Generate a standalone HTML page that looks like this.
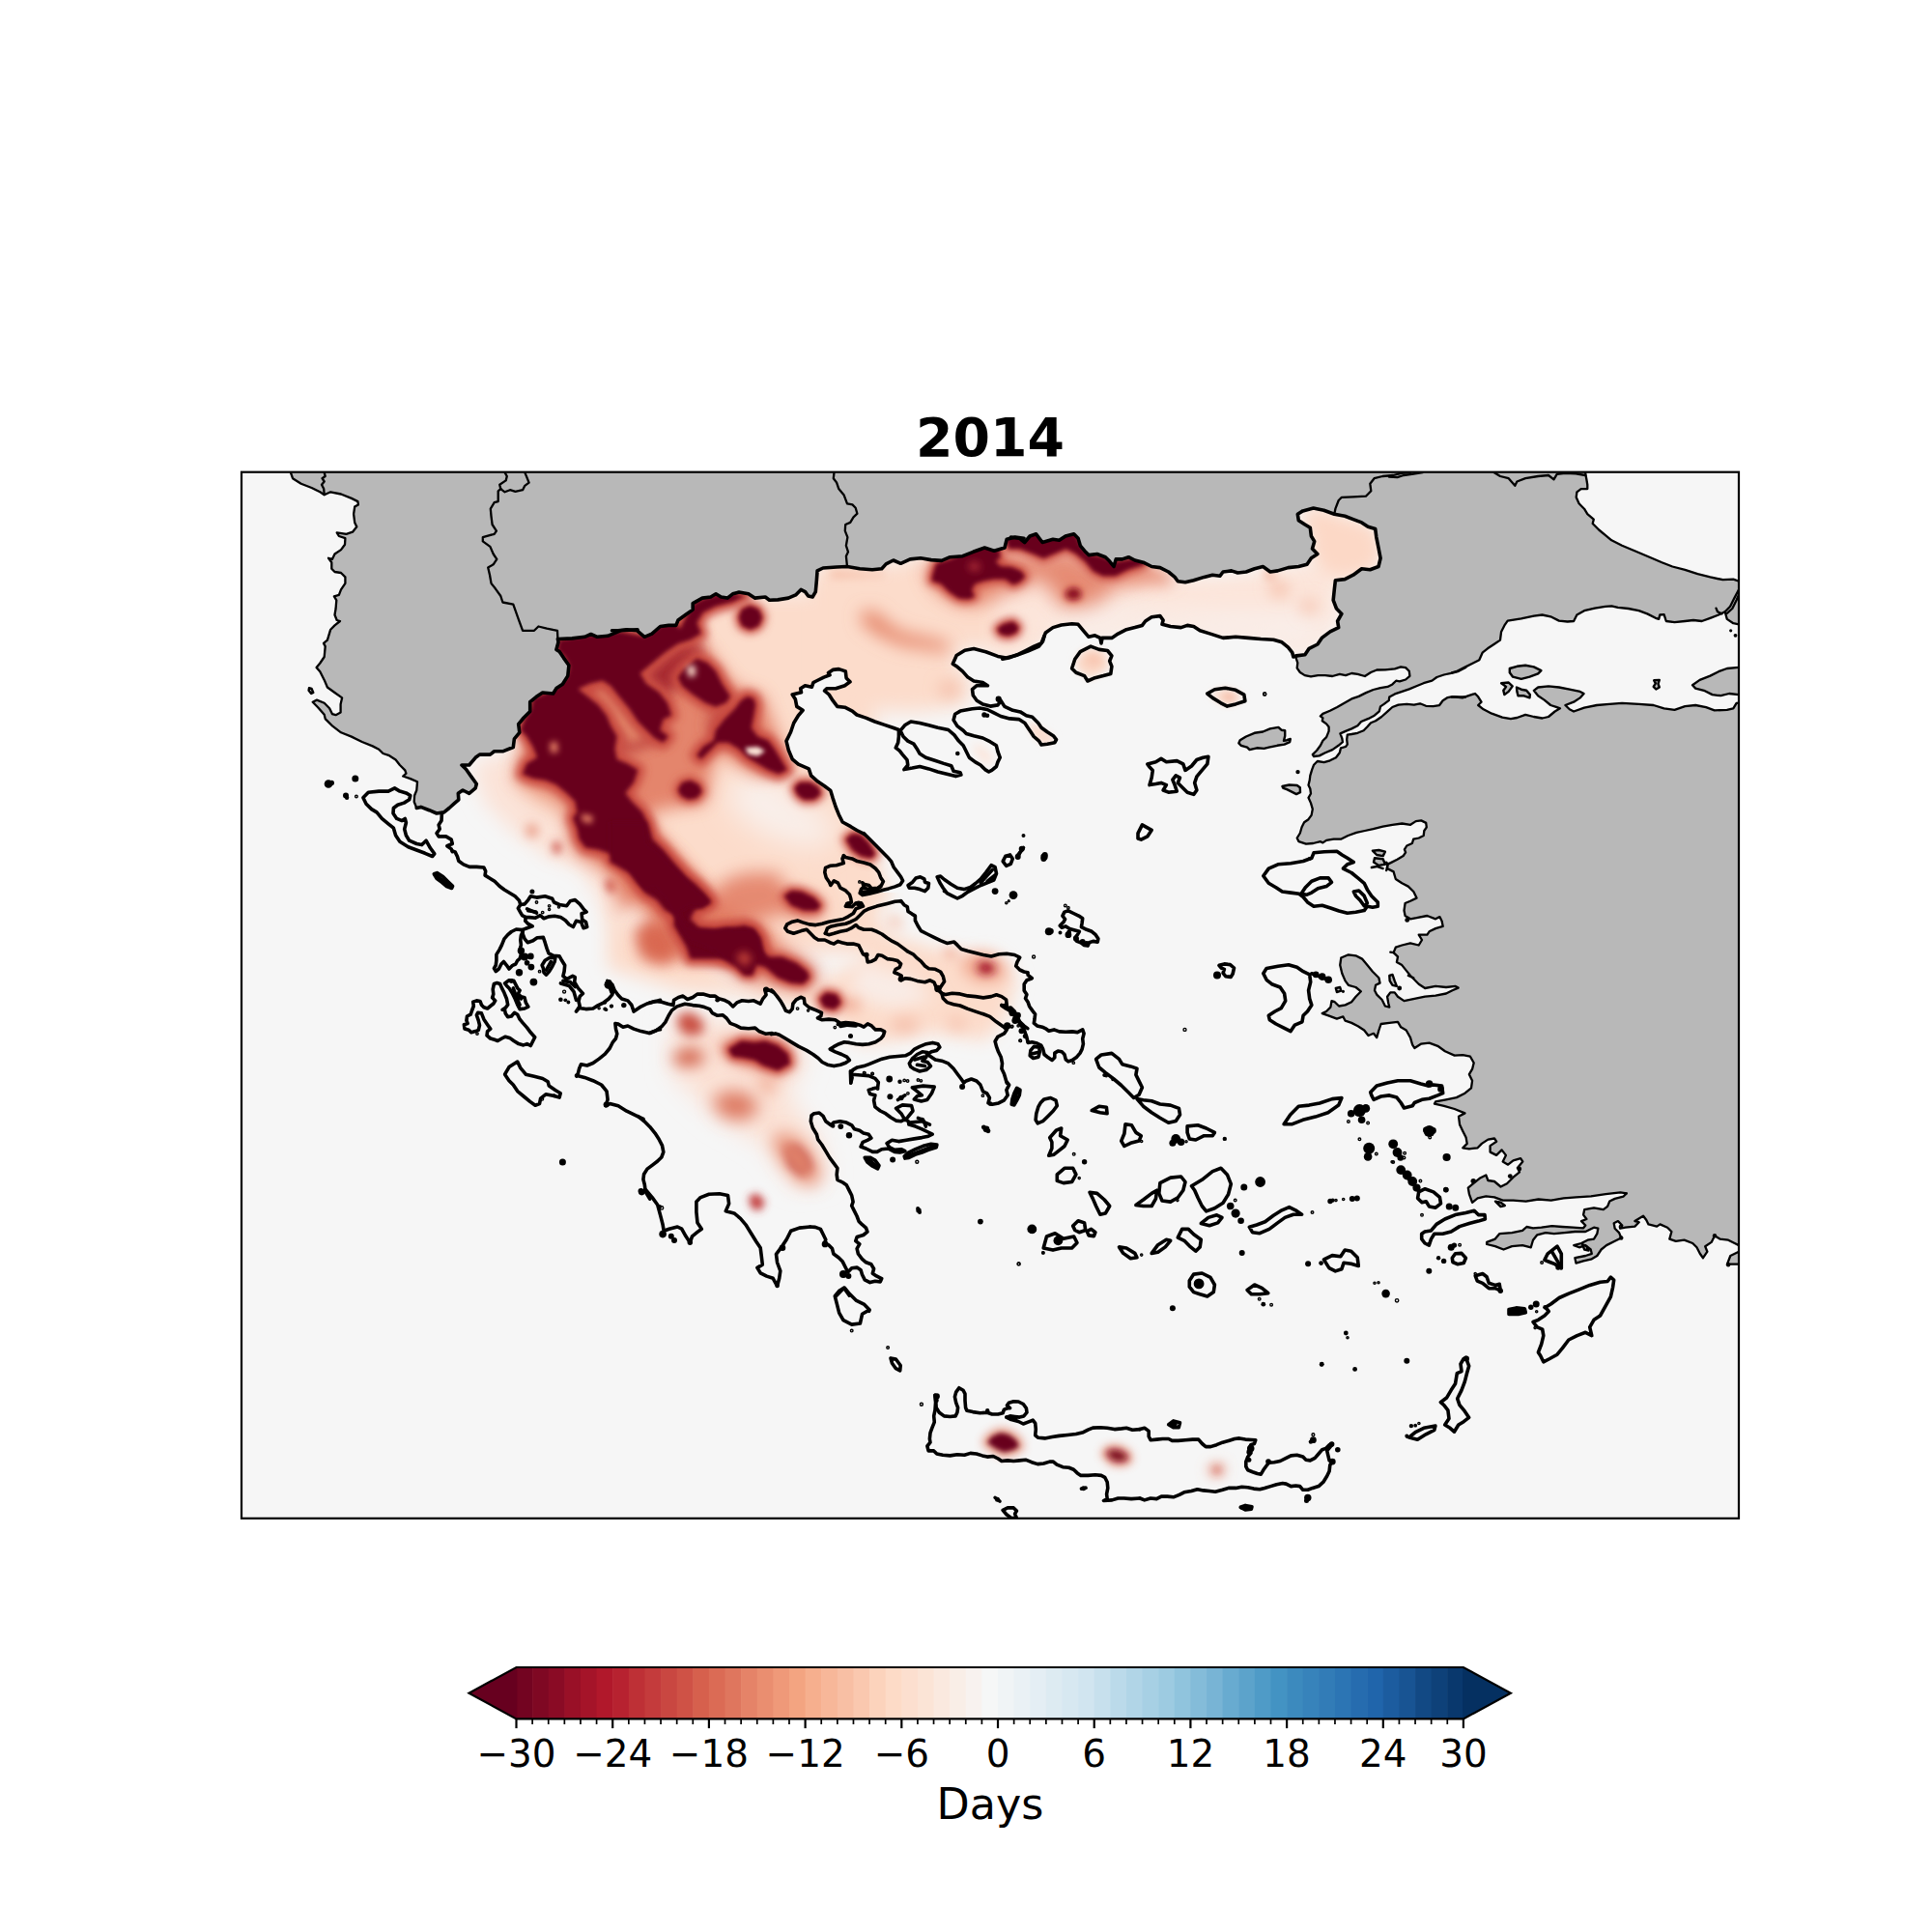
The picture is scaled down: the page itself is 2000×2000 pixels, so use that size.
<!DOCTYPE html>
<html lang="en"><head><meta charset="utf-8"><title>2014</title>
<style>html,body{margin:0;padding:0;background:#fff}body{width:2000px;height:2000px;overflow:hidden}</style></head>
<body>
<svg width="2000" height="2000" viewBox="0 0 2000 2000" style="display:block">
<defs><clipPath id="ax"><rect x="250.0" y="488.7" width="1550.0" height="1083.1"/></clipPath>
<filter id="b2" filterUnits="userSpaceOnUse" x="150" y="400" width="1750" height="1250"><feGaussianBlur stdDeviation="2"/></filter>
<filter id="b2_2" filterUnits="userSpaceOnUse" x="150" y="400" width="1750" height="1250"><feGaussianBlur stdDeviation="2.2"/></filter>
<filter id="b2_5" filterUnits="userSpaceOnUse" x="150" y="400" width="1750" height="1250"><feGaussianBlur stdDeviation="2.5"/></filter>
<filter id="b3" filterUnits="userSpaceOnUse" x="150" y="400" width="1750" height="1250"><feGaussianBlur stdDeviation="3"/></filter>
<filter id="b3_5" filterUnits="userSpaceOnUse" x="150" y="400" width="1750" height="1250"><feGaussianBlur stdDeviation="3.5"/></filter>
<filter id="b4" filterUnits="userSpaceOnUse" x="150" y="400" width="1750" height="1250"><feGaussianBlur stdDeviation="4"/></filter>
<filter id="b5" filterUnits="userSpaceOnUse" x="150" y="400" width="1750" height="1250"><feGaussianBlur stdDeviation="5"/></filter>
<filter id="b6" filterUnits="userSpaceOnUse" x="150" y="400" width="1750" height="1250"><feGaussianBlur stdDeviation="6"/></filter>
<filter id="b7" filterUnits="userSpaceOnUse" x="150" y="400" width="1750" height="1250"><feGaussianBlur stdDeviation="7"/></filter>
<filter id="b8" filterUnits="userSpaceOnUse" x="150" y="400" width="1750" height="1250"><feGaussianBlur stdDeviation="8"/></filter>
<filter id="b9" filterUnits="userSpaceOnUse" x="150" y="400" width="1750" height="1250"><feGaussianBlur stdDeviation="9"/></filter>
<filter id="b10" filterUnits="userSpaceOnUse" x="150" y="400" width="1750" height="1250"><feGaussianBlur stdDeviation="10"/></filter>
<filter id="b12" filterUnits="userSpaceOnUse" x="150" y="400" width="1750" height="1250"><feGaussianBlur stdDeviation="12"/></filter>
<filter id="b14" filterUnits="userSpaceOnUse" x="150" y="400" width="1750" height="1250"><feGaussianBlur stdDeviation="14"/></filter>
</defs>
<rect x="0" y="0" width="2000" height="2000" fill="#fff"/>
<rect x="250.0" y="488.7" width="1550.0" height="1083.1" fill="#f6f6f6"/>
<g clip-path="url(#ax)">
<g id="heat">
<path d="M578.9 662.2 L632.2 653.5 L684.3 647 L717 625.2 L762.6 614.3 L838.7 614.3 L849.6 586.1 L906.1 590.4 L906.1 986.1 L697.4 986.1 L675.7 951.3 L632.2 918.7 L601.7 886.1 L573.5 881.7 L562.6 864.3 L545.2 842.6 L530 810 L532.2 781.7 L551.7 725.2Z" fill="#fcdccb" filter="url(#b10)"/>
<path d="M851.7 582.9 L909.7 586.3 L966 574.7 L1025.6 553.1 L1108.4 544.8 L1184.6 574.7 L1184.6 619.4 L1108.4 634.3 L1078.6 652.5 L1075.3 665.8 L1042.2 679 L1009.1 669.1 L992.5 674 L985.9 685.6 L1004.1 702.2 L1002.4 727 L975.9 733.7 L942.8 737 L909.7 735.3 L876.6 732 L851.7 718.8Z" fill="#fcdccb" filter="url(#b10)"/>
<path d="M629.1 914.3 L705.2 968.7 L748.7 1012.2 L835.7 1023 L900.9 990.4 L857.4 947 L857.4 892.6 L879.1 860 L900.9 881.7 L922.6 931.7 L896.5 942.6 L911.7 964.3 L966.1 981.7 L1031.3 990.4 L1053 1012.2 L1042.2 1051.3 L1020.4 1077.4 L966.1 1068.7 L922.6 1077.4 L890 1081.7 L857.4 1051.3 L813.9 1038.3 L770.4 1029.6 L705.2 1025.2 L661.7 1012.2 L629.1 1001.3Z" fill="#fcdccb" filter="url(#b9)"/>
<path d="M1029.1 567 L1118.3 567 L1153 588.7 L1213.9 597.4 L1257.4 597.4 L1311.7 590.9 L1357.4 582.2 L1363.9 573.5 L1357.4 553.9 L1344.3 534.3 L1359.6 525.7 L1422.6 547.4 L1429.1 577.8 L1418.3 590.9 L1387.8 601.7 L1381.3 621.3 L1387.8 636.5 L1366.1 664.8 L1342.2 678.9 L1322.6 664.8 L1257.4 658.3 L1203 647.4 L1192.2 638.7 L1170.4 651.7 L1127 660.4 L1105.2 646.3 L1083.5 653.9 L1061.7 673.5 L1029.1 682.2Z" fill="#fce5da" filter="url(#b9)"/>
<path d="M758.3 805.7 L795.2 799.1 L832.2 831.7 L867 853.5 L849.6 879.6 L806.1 870.9 L773.5 853.5 L753.9 831.7Z" fill="#f9efea" filter="url(#b14)"/>
<path d="M488.7 790.4 L534.3 777.4 L545.2 805.7 L584.3 825.2 L597.4 864.3 L610.4 881.7 L645.2 894.8 L653.9 916.5 L675.7 942.6 L697.4 973 L675.7 980 L632.2 951.3 L601.7 899.1 L567 886.1 L534.3 864.3 L501.7 831.7Z" fill="#fbe3d8" filter="url(#b10)"/>
<path d="M536.5 794.8 L571.3 810 L588.7 833.9 L582.2 847 L551.7 831.7 L532.2 810Z" fill="#f7c9b4" filter="url(#b9)"/>
<path d="M1091.9 619.4 L1184.6 612.8 L1184.6 635.9 L1108.4 642.6 L1080.3 652.5Z" fill="#fbe6dc" filter="url(#b10)"/>
<path d="M1115.1 679 L1128.3 670.7 L1144.9 675.7 L1148.2 692.3 L1128.3 702.2 L1113.4 692.3Z" fill="#fbd9c8" filter="url(#b5)"/>
<path d="M1125 680.7 L1133.3 678.2 L1139.9 683.1 L1133.3 687.3 L1126.7 685.6Z" fill="#f3aa90" filter="url(#b6)"/>
<path d="M1065.4 748.6 L1073.7 751.9 L1091.9 765.1 L1080.3 770.1 L1068.7 758.5Z" fill="#fbdccd" filter="url(#b4)"/>
<path d="M890 994.8 L944.3 1012.2 L966.1 1033.9 L922.6 1044.8 L879.1 1029.6Z" fill="#f9ece6" filter="url(#b9)"/>
<path d="M694.3 1051.3 L748.7 1055.7 L813.9 1073 L835.7 1099.1 L813.9 1131.7 L846.5 1175.2 L857.4 1218.7 L824.8 1229.6 L792.2 1186.1 L737.8 1153.5 L694.3 1110Z" fill="#fbe2d6" filter="url(#b12)"/>
<path d="M1083.5 653.9 L1105.2 647.4 L1127 660.4 L1192.2 638.7 L1257.4 658.3 L1322.6 664.8 L1342.2 678.9 L1355.2 671.3 L1379.1 632.2 L1344.3 632.2 L1257.4 632.2 L1170.4 627.8 L1105.2 632.2Z" fill="#f9eee9" filter="url(#b12)"/>
<path d="M1348.7 532.2 L1359.6 526.7 L1422.6 548.5 L1428 577.8 L1418.3 588.7 L1396.5 595.2 L1374.8 593 L1361.7 575.7 L1359.6 553.9Z" fill="#fcd8c6" filter="url(#b8)"/>
<path d="M588.7 699.1 L632.2 690.4 L675.7 673 L719.1 653.5 L732.2 673 L762.6 712.2 L788.7 718.7 L819.1 799.1 L784.3 803.5 L740.9 777.4 L730 831.7 L697.4 836.1 L667 842.6 L697.4 886.1 L740.9 933.9 L795.2 962.2 L793 992.6 L697.4 992.6 L653.9 918.7 L593 881.7 L582.2 831.7 L532.2 805.7 L545.2 751.3Z" fill="#e27b62" filter="url(#b9)" opacity="0.9"/>
<path d="M571.3 873 L578.9 870.9 L581.1 880.7 L574.6 885Z" fill="#c94a3f" filter="url(#b5)"/>
<path d="M625.7 912.2 L635.4 910 L638.7 920.9 L631.1 925.2Z" fill="#c94a3f" filter="url(#b5)"/>
<path d="M545.2 855.7 L553.9 853.5 L556.1 864.3 L547.4 866.5Z" fill="#e27b62" filter="url(#b6)"/>
<path d="M956.1 589.6 L975.9 579.6 L1025.6 569.7 L1075.3 574.7 L1108.4 569.7 L1141.6 591.2 L1184.6 589.6 L1184.6 602.8 L1158.1 606.1 L1133.3 626 L1100.2 629.3 L1088.6 612.8 L1075.3 597.8 L1063.7 606.1 L1042.2 612.8 L1017.3 626 L992.5 626 L967.7 609.4Z" fill="#e27b62" filter="url(#b10)" opacity="0.85"/>
<path d="M889.8 635.9 L899.8 631 L911.3 637.6 L924.6 649.2 L937.8 655.8 L954.4 659.1 L971 662.4 L985.9 669.1 L977.6 674.9 L959.4 671.6 L942.8 669.9 L924.6 664.9 L908 656.6 L894.8 647.5Z" fill="#e58468" filter="url(#b9)"/>
<path d="M972.6 713.8 L977.6 708.8 L985.9 708 L992.5 712.1 L990.8 717.9 L982.6 719.6 L975.9 717.9Z" fill="#eda58c" filter="url(#b9)"/>
<path d="M860 591.2 L909.7 593.7 L914.7 589.6 L914.7 596.2 L860 597.8Z" fill="#f4b9a2" filter="url(#b5)"/>
<path d="M640 942.6 L666.1 931.7 L694.3 951.3 L705.2 973 L727 986.1 L753 1003.5 L779.1 1016.5 L805.2 1020.9 L835.7 1025.2 L848.7 1012.2 L842.2 999.1 L813.9 981.7 L792.2 964.3 L748.7 951.3 L731.3 942.6 L735.7 925.2 L705.2 892.6 L683.5 873 L661.7 860 L631.3 860Z" fill="#e27b62" filter="url(#b9)" opacity="0.9"/>
<path d="M661.7 964.3 L683.5 955.7 L703 981.7 L690 994.8 L668.3 990.4Z" fill="#e27b62" filter="url(#b8)" opacity="0.9"/>
<path d="M735.7 933.9 L744.3 914.3 L770.4 903.5 L805.2 903.5 L813.9 920.9 L848.7 931.7 L853 947 L835.7 951.3 L805.2 947 L779.1 955.7 L753 957.8 L737.8 960 L727 940.4Z" fill="#e27b62" filter="url(#b9)" opacity="0.85"/>
<path d="M657.4 962.2 L683.5 951.3 L705.2 981.7 L687.8 999.1 L663.9 990.4Z" fill="#d8654e" filter="url(#b8)" opacity="0.9"/>
<path d="M744.3 1077.4 L779.1 1073 L813.9 1079.6 L824.8 1099.1 L809.6 1112.2 L770.4 1103.5 L748.7 1092.6Z" fill="#e27b62" filter="url(#b8)" opacity="0.8"/>
<path d="M996.5 990.4 L1020.4 986.1 L1042.2 999.1 L1037.8 1014.3 L1013.9 1016.5 L998.7 1007.8Z" fill="#f0a58c" filter="url(#b8)"/>
<path d="M1011.7 999.1 L1019.3 994.8 L1029.1 999.1 L1030.2 1005.7 L1020.4 1008.9 L1012.8 1005.7Z" fill="#a31428" filter="url(#b5)"/>
<path d="M870.4 1036.1 L885.7 1033.9 L892.2 1042.6 L879.1 1047Z" fill="#ee9f86" filter="url(#b7)"/>
<path d="M700.9 1051.3 L713.9 1047 L727 1055.7 L729.1 1068.7 L713.9 1073 L703 1066.5Z" fill="#c94f42" filter="url(#b6)"/>
<path d="M694.3 1093.7 L711.7 1083.9 L729.1 1089.3 L727 1101.3 L705.2 1104.6Z" fill="#d2604a" filter="url(#b8)"/>
<path d="M735.7 1138.3 L757.4 1128.5 L779.1 1135 L785.7 1149.1 L770.4 1160 L748.7 1156.7Z" fill="#dd7860" filter="url(#b9)"/>
<path d="M783.5 1116.5 L796.5 1112.2 L805.2 1120.9 L798.7 1133.9 L787.8 1129.6Z" fill="#f2b09a" filter="url(#b8)"/>
<path d="M811.7 1187.2 L824.8 1185 L835.7 1195.9 L841.1 1210 L830.2 1217.6 L817.2 1206.7Z" fill="#a01828" filter="url(#b4)"/>
<path d="M798.7 1177.4 L813.9 1173 L833.5 1185 L848.7 1212.2 L844.3 1227.4 L827 1223 L809.6 1202.4Z" fill="#e58a70" filter="url(#b9)"/>
<path d="M774.8 1239.3 L783.5 1235 L792.2 1244.3 L786.7 1253.5 L778 1250.9Z" fill="#c23c3c" filter="url(#b4)"/>
<path d="M922.6 1055.7 L944.3 1053.5 L953 1062.2 L940 1068.7 L924.8 1066.5Z" fill="#f4bba6" filter="url(#b8)"/>
<path d="M979.1 1055.7 L996.5 1053.5 L1000.9 1062.2 L987.8 1066.5Z" fill="#f4bba6" filter="url(#b8)"/>
<path d="M916.1 951.3 L929.1 947 L935.7 957.8 L924.8 962.2Z" fill="#f6c4b0" filter="url(#b7)"/>
<path d="M974.8 983.9 L987.8 981.7 L992.2 990.4 L981.3 992.6Z" fill="#f2b09a" filter="url(#b6)"/>
<path d="M1249.4 1521.8 L1259.4 1514.3 L1269.3 1520.6 L1260.6 1529.3Z" fill="#e58a70" filter="url(#b7)"/>
<path d="M1255.7 1521.2 L1260 1518.1 L1263.7 1521.8 L1259.4 1525.5Z" fill="#c6403c" filter="url(#b4)"/>
<path d="M1371.2 1592.6 L1381.1 1590.1 L1389.8 1595.1 L1382.4 1600.1Z" fill="#fbdccd" filter="url(#b4)"/>
<path d="M1148.7 577.8 L1174.8 582.2 L1200.9 588.7 L1218.3 598.5 L1205.2 606.1 L1179.1 601.7 L1157.4 597.4Z" fill="#e9927a" filter="url(#b8)"/>
<path d="M1311.7 606.1 L1327 601.7 L1335.7 612.6 L1322.6 619.1Z" fill="#f4b9a2" filter="url(#b8)"/>
<path d="M1344.3 623.5 L1359.6 619.1 L1366.1 632.2 L1350.9 636.5Z" fill="#f6c4b0" filter="url(#b8)"/>
<path d="M1307.4 588.7 L1316.1 593 L1322.6 598.5 L1311.7 599.6Z" fill="#f1a78e" filter="url(#b5)"/>
<path d="M662.6 699.1 L675.7 686.1 L688.7 675.2 L701.7 666.5 L717 662.2 L730 673 L719.1 683.9 L706.1 699.1 L701.7 712.2 L688.7 720.9 L675.7 712.2Z" fill="#a82a33" filter="url(#b7)"/>
<path d="M736.5 733.9 L762.6 729.6 L769.1 755.7 L749.6 768.7 L732.2 755.7Z" fill="#c24a42" filter="url(#b8)"/>
<path d="M598.5 713.3 L610.4 707.8 L623.5 704.6 L632.2 710 L640.9 720.9 L651.7 733.9 L660.4 747 L669.1 755.7 L677.8 764.3 L686.5 768.7 L638.7 786.1 L636.5 775.2 L638.7 762.2 L632.2 751.3 L627.8 740.4 L619.1 729.6 L608.3 720.9Z" fill="#bf4540" filter="url(#b6)" opacity="0.75"/>
<path d="M610.4 713.3 L623.5 712.2 L636.5 725.2 L651.7 744.8 L667 762.2 L653.9 768.7 L640.9 755.7 L630 738.3 L619.1 725.2Z" fill="#e58a6c" filter="url(#b5)" opacity="0.9"/>
<path d="M578.9 662.2 L610.4 656.7 L640.9 653.5 L667 658.9 L684.3 647 L699.6 645.9 L703.9 651.3 L717 625.2 L727.8 619.8 L740.9 615.4 L756.1 614.3 L771.3 617 L758.3 623 L740.9 627.4 L727.8 633.9 L721.3 644.8 L725.7 655.7 L714.8 662.2 L701.7 666.5 L688.7 675.2 L675.7 686.1 L662.6 697 L669.1 707.8 L682.2 716.5 L690.9 727.4 L695.2 740.4 L686.5 744.8 L683.3 755.7 L692 762.2 L686.5 768.7 L677.8 764.3 L669.1 755.7 L660.4 747 L651.7 733.9 L640.9 720.9 L632.2 710 L623.5 704.6 L610.4 707.8 L598.5 713.3 L608.3 720.9 L619.1 729.6 L627.8 740.4 L632.2 751.3 L638.7 762.2 L636.5 775.2 L638.7 786.1 L649.6 790.4 L660.4 797 L656.1 810 L647.4 820.9 L653.9 829.6 L664.8 840.4 L671.3 853.5 L675.7 868.7 L686.5 879.6 L697.4 892.6 L708.3 905.7 L719.1 914.3 L730 925.2 L736.5 933.9 L727.8 938.3 L719.1 942.6 L714.8 951.3 L723.5 960 L740.9 962.2 L758.3 960 L771.3 957.8 L782.2 964.3 L788.7 980 L793 992.6 L714.8 992.6 L710.4 980 L703.9 968.7 L697.4 957.8 L699.6 947 L688.7 942.6 L680 931.7 L669.1 925.2 L662.6 916.5 L656.1 905.7 L645.2 892.6 L632.2 883.9 L619.1 879.6 L606.1 877.4 L599.6 868.7 L597.4 857.8 L593 847 L597.4 840.4 L595.2 829.6 L586.5 820.9 L575.7 812.2 L564.8 807.8 L551.7 805.7 L540.9 801.3 L545.2 790.4 L556.1 783.9 L551.7 773 L545.2 762.2 L538.7 755.7 L543 744.8 L549.6 733.9 L551.7 723 L567 716.5 L577.8 710 L586.5 701.3 L589.8 690.4 L584.3 679.6 L576.7 673Z" stroke="#c94a3f" stroke-width="14" stroke-linejoin="round" fill="#c94a3f" filter="url(#b4)"/>
<path d="M721.3 681.7 L732.2 686.1 L740.9 694.8 L747.4 707.8 L756.1 720.9 L751.7 727.4 L740.9 731.7 L730 727.4 L717 718.7 L706.1 710 L701.7 701.3 L708.3 692.6Z" stroke="#c94a3f" stroke-width="14" stroke-linejoin="round" fill="#c94a3f" filter="url(#b4)"/>
<path d="M773.5 720.9 L767 725.2 L760.4 733.9 L749.6 744.8 L740.9 755.7 L738.7 766.5 L727.8 773 L721.3 781.7 L725.7 786.1 L734.3 777.4 L743 768.7 L753.9 768.7 L764.8 775.2 L773.5 783.9 L784.3 790.4 L795.2 797 L806.1 801.3 L814.8 797 L808.3 786.1 L801.7 775.2 L795.2 766.5 L784.3 762.2 L777.8 753.5 L780 742.6 L782.2 729.6 L780 723Z" stroke="#c94a3f" stroke-width="14" stroke-linejoin="round" fill="#c94a3f" filter="url(#b4)"/>
<path d="M764.8 639.3 L768 630.7 L776.7 627 L785.4 630.7 L789.1 639.3 L785.4 648 L776.7 651.7 L768 648Z" stroke="#c94a3f" stroke-width="9" stroke-linejoin="round" fill="#c94a3f" filter="url(#b4)"/>
<path d="M701.7 817.6 L706.1 810 L714.8 807.8 L723.5 812.2 L726.7 819.8 L721.3 826.3 L712.6 827.8 L705 824.1Z" stroke="#c94a3f" stroke-width="9" stroke-linejoin="round" fill="#c94a3f" filter="url(#b4)"/>
<path d="M822.4 815.4 L827.8 810 L838.7 810 L847.4 815.4 L849.6 822 L843 827.4 L832.2 827.8 L825.7 823Z" stroke="#c94a3f" stroke-width="9" stroke-linejoin="round" fill="#c94a3f" filter="url(#b4)"/>
<path d="M875.7 868.7 L882.2 863.3 L890.9 864.3 L899.6 873 L906.1 883.9 L901.7 888.3 L890.9 886.1 L882.2 879.6Z" stroke="#c94a3f" stroke-width="9" stroke-linejoin="round" fill="#c94a3f" filter="url(#b4)"/>
<path d="M811.5 927.4 L819.1 922 L830 923 L843 929.6 L849.6 937.2 L845.2 942.6 L832.2 942.6 L819.1 937.2Z" stroke="#c94a3f" stroke-width="9" stroke-linejoin="round" fill="#c94a3f" filter="url(#b4)"/>
<path d="M966 592.9 L969.3 582.9 L985.9 578 L1000.8 569.7 L1019 563.1 L1033.9 566.4 L1035.6 577.1 L1030.6 581.3 L1035.6 586.3 L1047.2 587.1 L1057.1 591.2 L1061.2 597 L1055.4 602.8 L1048.8 605.3 L1040.5 599.5 L1028.9 599.5 L1019 601.2 L1009.1 604.5 L1005.8 611.1 L1009.1 617.7 L1002.4 620.2 L992.5 619.4 L982.6 612.8 L974.3 604.5 L964.3 601.2Z" stroke="#c94a3f" stroke-width="9" stroke-linejoin="round" fill="#c94a3f" filter="url(#b4)"/>
<path d="M1040.5 553.1 L1072 546.5 L1111.8 548.2 L1118.4 563.1 L1125 573 L1141.6 576.3 L1154.8 581.3 L1184.6 576.3 L1184.6 584.6 L1168.1 589.6 L1154.8 596.2 L1141.6 596.2 L1131.6 591.2 L1123.4 581.3 L1113.4 573 L1103.5 568 L1091.9 573 L1080.3 578 L1068.7 573 L1055.4 568 L1043.9 568Z" stroke="#c94a3f" stroke-width="9" stroke-linejoin="round" fill="#c94a3f" filter="url(#b4)"/>
<path d="M1032.3 650.8 L1038.9 645.9 L1048.8 643.4 L1054.6 649.2 L1052.1 655 L1043.9 658.3 L1035.6 656.6Z" stroke="#c94a3f" stroke-width="9" stroke-linejoin="round" fill="#c94a3f" filter="url(#b4)"/>
<path d="M1102.7 614.4 L1106.8 609.4 L1113.4 608.6 L1119.2 612.8 L1118.4 618.6 L1111.8 621 L1105.1 619.4Z" stroke="#e27b62" stroke-width="6" stroke-linejoin="round" fill="#c94a3f" filter="url(#b4)"/>
<path d="M668.3 851.3 L670.4 873 L683.5 881.7 L694.3 894.8 L705.2 903.5 L713.9 914.3 L727 925.2 L735.7 933.9 L727 940.4 L713.9 938.3 L703 944.8 L711.7 957.8 L722.6 962.2 L737.8 962.2 L753 960 L766.1 962.2 L779.1 960 L787.8 970.9 L790 986.1 L796.5 990.4 L809.6 990.4 L824.8 997 L835.7 1005.7 L837.8 1012.2 L831.3 1018.7 L818.3 1017.6 L805.2 1012.2 L792.2 1001.3 L783.5 999.1 L779.1 1010 L770.4 1010 L761.7 1001.3 L750.9 994.8 L737.8 983.9 L727 979.6 L713.9 975.2 L705.2 964.3 L698.7 951.3 L687.8 931.7 L677 918.7 L668.3 923 L659.6 914.3 L650.9 903.5 L631.3 892.6 L631.3 851.3Z" stroke="#c94a3f" stroke-width="9" stroke-linejoin="round" fill="#c94a3f" filter="url(#b4)"/>
<path d="M848.7 1033.9 L855.2 1027.4 L866.1 1029.6 L870.4 1038.3 L863.9 1044.8 L853 1042.6Z" stroke="#c94a3f" stroke-width="9" stroke-linejoin="round" fill="#c94a3f" filter="url(#b4)"/>
<path d="M754.1 1086.1 L767.2 1077.4 L781.3 1079.1 L792.2 1077.4 L805.2 1082.2 L815.7 1090.9 L817.8 1101.3 L805.2 1108.3 L790 1103 L781.3 1097.4 L770.4 1095.2 L758.5 1093.7Z" stroke="#c94a3f" stroke-width="9" stroke-linejoin="round" fill="#c94a3f" filter="url(#b4)"/>
<path d="M1022 1493.2 L1027 1487 L1035.7 1483.3 L1044.3 1485.2 L1051.8 1490.7 L1054.9 1497 L1049.3 1500.7 L1039.4 1503.2 L1030.7 1499.4Z" stroke="#e27b62" stroke-width="10" stroke-linejoin="round" fill="#e27b62" filter="url(#b5)" opacity="0.8"/>
<path d="M1145 1504.4 L1149.9 1500.7 L1158.6 1501.3 L1166.1 1505.7 L1167.3 1510.6 L1161.1 1513.1 L1152.4 1511.9Z" stroke="#e27b62" stroke-width="10" stroke-linejoin="round" fill="#e27b62" filter="url(#b5)" opacity="0.8"/>
<path d="M578.9 662.2 L610.4 656.7 L640.9 653.5 L667 658.9 L684.3 647 L699.6 645.9 L703.9 651.3 L717 625.2 L727.8 619.8 L740.9 615.4 L756.1 614.3 L771.3 617 L758.3 623 L740.9 627.4 L727.8 633.9 L721.3 644.8 L725.7 655.7 L714.8 662.2 L701.7 666.5 L688.7 675.2 L675.7 686.1 L662.6 697 L669.1 707.8 L682.2 716.5 L690.9 727.4 L695.2 740.4 L686.5 744.8 L683.3 755.7 L692 762.2 L686.5 768.7 L677.8 764.3 L669.1 755.7 L660.4 747 L651.7 733.9 L640.9 720.9 L632.2 710 L623.5 704.6 L610.4 707.8 L598.5 713.3 L608.3 720.9 L619.1 729.6 L627.8 740.4 L632.2 751.3 L638.7 762.2 L636.5 775.2 L638.7 786.1 L649.6 790.4 L660.4 797 L656.1 810 L647.4 820.9 L653.9 829.6 L664.8 840.4 L671.3 853.5 L675.7 868.7 L686.5 879.6 L697.4 892.6 L708.3 905.7 L719.1 914.3 L730 925.2 L736.5 933.9 L727.8 938.3 L719.1 942.6 L714.8 951.3 L723.5 960 L740.9 962.2 L758.3 960 L771.3 957.8 L782.2 964.3 L788.7 980 L793 992.6 L714.8 992.6 L710.4 980 L703.9 968.7 L697.4 957.8 L699.6 947 L688.7 942.6 L680 931.7 L669.1 925.2 L662.6 916.5 L656.1 905.7 L645.2 892.6 L632.2 883.9 L619.1 879.6 L606.1 877.4 L599.6 868.7 L597.4 857.8 L593 847 L597.4 840.4 L595.2 829.6 L586.5 820.9 L575.7 812.2 L564.8 807.8 L551.7 805.7 L540.9 801.3 L545.2 790.4 L556.1 783.9 L551.7 773 L545.2 762.2 L538.7 755.7 L543 744.8 L549.6 733.9 L551.7 723 L567 716.5 L577.8 710 L586.5 701.3 L589.8 690.4 L584.3 679.6 L576.7 673Z" fill="#67001f" filter="url(#b2_2)"/>
<path d="M721.3 681.7 L732.2 686.1 L740.9 694.8 L747.4 707.8 L756.1 720.9 L751.7 727.4 L740.9 731.7 L730 727.4 L717 718.7 L706.1 710 L701.7 701.3 L708.3 692.6Z" fill="#67001f" filter="url(#b2_2)"/>
<path d="M773.5 720.9 L767 725.2 L760.4 733.9 L749.6 744.8 L740.9 755.7 L738.7 766.5 L727.8 773 L721.3 781.7 L725.7 786.1 L734.3 777.4 L743 768.7 L753.9 768.7 L764.8 775.2 L773.5 783.9 L784.3 790.4 L795.2 797 L806.1 801.3 L814.8 797 L808.3 786.1 L801.7 775.2 L795.2 766.5 L784.3 762.2 L777.8 753.5 L780 742.6 L782.2 729.6 L780 723Z" fill="#67001f" filter="url(#b2_2)"/>
<path d="M764.8 639.3 L768 630.7 L776.7 627 L785.4 630.7 L789.1 639.3 L785.4 648 L776.7 651.7 L768 648Z" fill="#67001f" filter="url(#b2_2)"/>
<path d="M701.7 817.6 L706.1 810 L714.8 807.8 L723.5 812.2 L726.7 819.8 L721.3 826.3 L712.6 827.8 L705 824.1Z" fill="#67001f" filter="url(#b2_2)"/>
<path d="M822.4 815.4 L827.8 810 L838.7 810 L847.4 815.4 L849.6 822 L843 827.4 L832.2 827.8 L825.7 823Z" fill="#67001f" filter="url(#b2_2)"/>
<path d="M875.7 868.7 L882.2 863.3 L890.9 864.3 L899.6 873 L906.1 883.9 L901.7 888.3 L890.9 886.1 L882.2 879.6Z" fill="#67001f" filter="url(#b2_2)"/>
<path d="M811.5 927.4 L819.1 922 L830 923 L843 929.6 L849.6 937.2 L845.2 942.6 L832.2 942.6 L819.1 937.2Z" fill="#67001f" filter="url(#b2_2)"/>
<path d="M966 592.9 L969.3 582.9 L985.9 578 L1000.8 569.7 L1019 563.1 L1033.9 566.4 L1035.6 577.1 L1030.6 581.3 L1035.6 586.3 L1047.2 587.1 L1057.1 591.2 L1061.2 597 L1055.4 602.8 L1048.8 605.3 L1040.5 599.5 L1028.9 599.5 L1019 601.2 L1009.1 604.5 L1005.8 611.1 L1009.1 617.7 L1002.4 620.2 L992.5 619.4 L982.6 612.8 L974.3 604.5 L964.3 601.2Z" fill="#67001f" filter="url(#b2_2)"/>
<path d="M1040.5 553.1 L1072 546.5 L1111.8 548.2 L1118.4 563.1 L1125 573 L1141.6 576.3 L1154.8 581.3 L1184.6 576.3 L1184.6 584.6 L1168.1 589.6 L1154.8 596.2 L1141.6 596.2 L1131.6 591.2 L1123.4 581.3 L1113.4 573 L1103.5 568 L1091.9 573 L1080.3 578 L1068.7 573 L1055.4 568 L1043.9 568Z" fill="#67001f" filter="url(#b2_2)"/>
<path d="M1032.3 650.8 L1038.9 645.9 L1048.8 643.4 L1054.6 649.2 L1052.1 655 L1043.9 658.3 L1035.6 656.6Z" fill="#67001f" filter="url(#b2_2)"/>
<path d="M1102.7 614.4 L1106.8 609.4 L1113.4 608.6 L1119.2 612.8 L1118.4 618.6 L1111.8 621 L1105.1 619.4Z" fill="#8a0f24" filter="url(#b3)"/>
<path d="M668.3 851.3 L670.4 873 L683.5 881.7 L694.3 894.8 L705.2 903.5 L713.9 914.3 L727 925.2 L735.7 933.9 L727 940.4 L713.9 938.3 L703 944.8 L711.7 957.8 L722.6 962.2 L737.8 962.2 L753 960 L766.1 962.2 L779.1 960 L787.8 970.9 L790 986.1 L796.5 990.4 L809.6 990.4 L824.8 997 L835.7 1005.7 L837.8 1012.2 L831.3 1018.7 L818.3 1017.6 L805.2 1012.2 L792.2 1001.3 L783.5 999.1 L779.1 1010 L770.4 1010 L761.7 1001.3 L750.9 994.8 L737.8 983.9 L727 979.6 L713.9 975.2 L705.2 964.3 L698.7 951.3 L687.8 931.7 L677 918.7 L668.3 923 L659.6 914.3 L650.9 903.5 L631.3 892.6 L631.3 851.3Z" fill="#67001f" filter="url(#b2_2)"/>
<path d="M848.7 1033.9 L855.2 1027.4 L866.1 1029.6 L870.4 1038.3 L863.9 1044.8 L853 1042.6Z" fill="#67001f" filter="url(#b2_2)"/>
<path d="M754.1 1086.1 L767.2 1077.4 L781.3 1079.1 L792.2 1077.4 L805.2 1082.2 L815.7 1090.9 L817.8 1101.3 L805.2 1108.3 L790 1103 L781.3 1097.4 L770.4 1095.2 L758.5 1093.7Z" fill="#67001f" filter="url(#b2_2)"/>
<path d="M1022 1493.2 L1027 1487 L1035.7 1483.3 L1044.3 1485.2 L1051.8 1490.7 L1054.9 1497 L1049.3 1500.7 L1039.4 1503.2 L1030.7 1499.4Z" fill="#67001f" filter="url(#b2_5)"/>
<path d="M1145 1504.4 L1149.9 1500.7 L1158.6 1501.3 L1166.1 1505.7 L1167.3 1510.6 L1161.1 1513.1 L1152.4 1511.9Z" fill="#7a0820" filter="url(#b3_5)"/>
<path d="M771.3 774.1 L784.3 773 L792 777.4 L784.3 782.8 L774.6 780.7Z" fill="#fbe3d6" filter="url(#b2)"/>
<path d="M569.1 768.7 L576.7 767.6 L577.8 778.5 L570.2 779.6Z" fill="#e27b62" filter="url(#b3)"/>
<path d="M601.7 842.6 L613.7 844.8 L612.6 852.4 L602.8 850.2Z" fill="#e27b62" filter="url(#b3)"/>
<path d="M710.4 690.4 L719.1 688.3 L720.2 699.1 L713.7 701.3Z" fill="#fcdccb" filter="url(#b3)"/>
<path d="M1002.4 584.6 L1009.1 581.3 L1015.7 586.3 L1010.7 591.2 L1004.1 589.6Z" fill="#b5303a" filter="url(#b4)"/>
<path d="M761.7 990.4 L770.4 983.9 L779.1 992.6 L770.4 1001.3Z" fill="#c04038" filter="url(#b4)"/>
</g>
<g id="land" fill="#b8b8b8" stroke="none">
<path d="M300.9 486.5 L300.9 489.1 L303 495.2 L311.7 500.7 L322.6 505 L331.3 509.3 L335.7 512.2 L342.2 509.3 L353 511.5 L363.9 515.9 L370.4 519.1 L370.9 522.4 L367.2 524.6 L366.1 532.2 L367.2 540.9 L369.3 545.2 L365 550.7 L358.5 552.8 L348.7 551.3 L350.9 555 L357.4 557.2 L357 563.7 L353 569.1 L346.5 573.5 L343.9 578.9 L340 577.8 L343.3 582.2 L343.3 588.7 L346.5 592 L353 593 L357.4 597.4 L357.4 603.9 L353 610.4 L350.9 615.9 L345.9 617.4 L348.3 621.3 L347.6 630 L346.5 636.5 L348.7 642 L352 643 L346.5 647.4 L342.2 651.7 L338.9 662.6 L335 665.9 L336.7 669.1 L335.7 680 L331.3 686.5 L327.6 690.9 L331.3 695.2 L335.7 703.9 L338.9 711.5 L346.5 717 L354.1 722.4 L352.6 728.9 L352.6 737.6 L347.6 740.2 L343.9 739.1 L341.1 733.3 L335.7 727.8 L328 724.6 L323.7 726.7 L329.1 732.2 L335.7 739.8 L336.7 744.1 L344.3 751.7 L353 758.3 L363.9 762.6 L374.8 768 L385.7 772.4 L392.2 775.7 L396.5 780 L403 782.2 L409.6 786.5 L413.9 792 L419.3 797.4 L420.4 800.7 L417.2 803.5 L424.8 806.1 L432 809.3 L431.3 818 L429.1 823.5 L428.7 830 L431.3 836.5 L431.3 836.5 L435.7 835.4 L444.3 838.7 L452 842 L459.6 840.9 L465 836.5 L470.4 831.7 L474.8 827.8 L474.3 821.3 L479.1 818 L485.7 821.3 L492.2 815.9 L493.3 811.5 L487.8 803.9 L482.4 796.3 L478 792 L485.7 792 L492.2 784.3 L496.5 781.1 L507.4 781.1 L511.7 777.8 L520.4 777.8 L531.3 773.5 L532.4 764.8 L537.8 758.3 L536.7 749.6 L542.2 743 L548.7 736.5 L548.7 726.7 L555.2 721.3 L561.7 717 L572.6 718 L575.9 712.6 L582.4 708.3 L587.8 699.6 L588.9 688.7 L583.5 681.1 L579.1 674.6 L575.9 672.4 L578 664.8 L577.4 661.5 L577.4 661.5 L592.2 660.9 L605.2 659.3 L611.7 656.5 L618.3 659.3 L629.1 658.3 L642.2 652.8 L660 651.7 L666.1 651.7 L666.1 486.5Z"/>
<path d="M633.5 652.8 L640 652.8 L648.7 651.7 L659.6 652.8 L667.2 659.3 L674.8 656.1 L683.5 648.5 L692.2 647.4 L699.8 647.4 L702 642 L709.6 636.5 L717.2 631.1 L717.2 624.6 L727 619.1 L735.7 618 L741.1 614.8 L746.5 618 L753 619.1 L758.5 614.8 L765 613 L774.8 614.8 L781.3 619.1 L792.2 618 L796.5 621.3 L805.2 620.9 L816.1 619.1 L823.7 615.9 L829.1 610.4 L833.5 612.6 L836.7 617 L841.1 618 L844.3 612.6 L845.4 600.7 L846.1 590.9 L852 588 L866.1 587 L877 586.5 L890 588.7 L903 589.8 L912.8 588.7 L917.2 583.9 L924.8 580 L932.4 583.3 L942.2 578.9 L953 577.8 L963.9 579.6 L974.8 580.4 L983.5 576.7 L996.5 575.7 L1007.4 571.3 L1019.3 567 L1029.1 570.2 L1040 567 L1042.2 558.3 L1050.9 556.1 L1060 557.2 L1066.1 557.2 L1066.1 486.5 L633.5 486.5Z"/>
<path d="M1046.5 556.1 L1055.2 557.2 L1060.7 561.5 L1066.1 555 L1072.6 552.8 L1079.1 561.5 L1090 558.3 L1096.5 559.3 L1103 555 L1111.7 552.8 L1116.1 557.2 L1118.3 564.8 L1123.7 571.3 L1127 574.6 L1135.7 573.5 L1144.3 576.7 L1148.7 581.1 L1153 586.5 L1155.2 578.9 L1161.7 578.9 L1168.3 576.7 L1174.8 580 L1183.5 582.2 L1192.2 586.5 L1200.9 587.6 L1209.6 592 L1216.1 597.4 L1219.3 601.7 L1227 602.8 L1235.7 600.7 L1246.5 597.4 L1255.2 595.2 L1262.8 596.3 L1266.1 592 L1274.8 590.9 L1281.3 593 L1290 592 L1298.7 588.7 L1307.4 586.5 L1315 592 L1322.6 590.9 L1333.5 587.6 L1344.3 586.5 L1353 584.3 L1357.4 577.8 L1363.9 573.5 L1358.5 568 L1360.7 560.4 L1357.4 555 L1356.3 546.3 L1350.9 543 L1344.3 538.7 L1343.3 532.2 L1348.7 528.9 L1359.6 526.1 L1370.4 528.3 L1381.3 532.2 L1392.2 534.3 L1400.9 537.6 L1409.6 540.9 L1416.1 545.2 L1423.7 547.4 L1424.8 556.1 L1427 567 L1429.1 577.8 L1427 586.5 L1418.3 589.8 L1409.6 588.7 L1400.9 595.2 L1392.2 599.6 L1382.4 600.7 L1381.3 610.4 L1380.2 621.3 L1383.5 630 L1388.9 635.4 L1384.6 643 L1385.7 649.6 L1377 653.9 L1368.3 660.4 L1363.9 667 L1355.2 671.3 L1350.9 677.8 L1342.2 678.9 L1341.4 680.5 L1343.3 686.1 L1342.7 691.7 L1345.8 696 L1350.7 699.1 L1357 700.4 L1364.4 699.1 L1371.9 699.1 L1379.3 700 L1386.8 697.9 L1393 699.1 L1399.2 697 L1405.4 697.9 L1412.9 700 L1419.1 696 L1425.3 693.5 L1434 693.3 L1443.9 692.3 L1450.1 690.4 L1455.1 691.1 L1458.8 694.8 L1459.4 699.8 L1455.1 703.5 L1448.9 705.3 L1445.2 704.7 L1441.4 708.4 L1436.5 710.9 L1429 712.2 L1421.6 714 L1414.1 717.1 L1406.6 720.9 L1399.2 723.4 L1391.7 727.7 L1384.3 732 L1376.8 735.8 L1369.4 738.9 L1366.9 741.4 L1369.4 743.2 L1368.8 746.3 L1373.1 749.4 L1375.6 752.5 L1375.6 756.9 L1373.1 763.1 L1369.4 766.8 L1366.9 771.8 L1363.2 776.8 L1358.8 781.1 L1360.1 783 L1365.7 782.4 L1371.9 779.3 L1379.3 776.1 L1385.5 771.8 L1389.9 768.1 L1389.3 764.3 L1387.4 759.4 L1393 756.9 L1399.2 754.4 L1405.4 751.3 L1409.1 747 L1416.6 743.9 L1422.8 740.7 L1427.8 736.4 L1429 731.4 L1432.7 728.9 L1437.7 725.2 L1438.3 721.5 L1443.9 718.4 L1451.4 715.9 L1458.8 713.4 L1466.3 710.3 L1473.7 707.2 L1482.4 704.7 L1487.4 701 L1494.8 698.5 L1503.5 696.6 L1510 694.8 L1517.2 691.1 L1830 700 L1830 470 L1000 470 L1000 560Z"/>
<path d="M1517.2 721.5 L1510 721.5 L1503.5 721.1 L1498.6 722.1 L1493.6 725.2 L1489.9 730.2 L1483.7 731.1 L1476.2 730.8 L1470 728.3 L1463.8 729.6 L1456.3 728.9 L1447.6 729.6 L1441.4 732 L1436.5 736.4 L1430.2 742 L1424 746.3 L1419.1 748.2 L1415.3 752.5 L1411.6 756.3 L1405.4 758.8 L1399.2 760 L1394.8 760.6 L1394.2 765.6 L1394.8 770.6 L1393 773 L1388 774.3 L1386.8 779.3 L1383 784.2 L1376.8 787.3 L1370.6 789.2 L1363.8 788 L1360.1 791.7 L1358.2 796.6 L1356.3 802.9 L1355.7 807.8 L1354.5 812.8 L1356.3 816.5 L1357 821.5 L1354.5 825.8 L1357 831.4 L1358.8 837.6 L1357.6 843.9 L1354.5 848.2 L1350.1 851.3 L1347.6 856.3 L1345.8 862.5 L1342.7 867.5 L1344.5 871.2 L1352 873.7 L1359.4 873 L1366.9 871.2 L1369.4 872.4 L1373.1 869.9 L1380.6 868.7 L1388 868.7 L1395.5 865 L1404.2 861.9 L1412.9 860 L1421.6 858.1 L1431.5 855.7 L1441.4 853.8 L1451.4 852.5 L1460.1 853.8 L1465.7 850.1 L1471.2 849.4 L1476.2 851.9 L1476.8 856.3 L1474.3 860 L1473.7 865 L1468.8 867.5 L1463.2 868.7 L1461.9 873 L1456.3 875.5 L1453.9 879.3 L1455.1 882.4 L1452.6 886.1 L1446.4 889.8 L1440.2 892.9 L1436.5 894.8 L1435.2 901 L1517.2 901Z"/>
<path d="M1505.2 471.3 L1831.3 471.3 L1831.3 910.4 L1505.2 910.4Z"/>
<path d="M1435.2 892.6 L1436.5 894.8 L1436.1 899.1 L1442.6 902.4 L1444.8 910 L1451.3 914.3 L1457.8 917.6 L1463.3 923 L1466.5 929.6 L1460 932.8 L1454.6 935 L1453.5 942.6 L1454.6 948 L1460 951.3 L1466.5 950.2 L1477.4 948 L1486.1 951.3 L1490.4 949.1 L1492.6 953.5 L1493.7 958.9 L1486.1 961.1 L1479.6 964.3 L1477.4 967.6 L1468.7 967.6 L1472 973 L1468.7 978.5 L1460 976.3 L1451.3 978.5 L1444.8 980.7 L1442.6 986.1 L1447 990.4 L1445.9 995.9 L1451.3 999.1 L1455.7 1004.6 L1460 1010 L1464.3 1014.3 L1468.7 1018.7 L1475.2 1023 L1486.1 1020.9 L1497 1022 L1506.7 1020.9 L1509.6 1022.6 L1503.5 1025.2 L1497 1028.5 L1486.1 1030.7 L1475.2 1031.7 L1464.3 1033.9 L1453.5 1036.1 L1447 1031.7 L1443.7 1027.4 L1439.3 1027.4 L1436.1 1031.7 L1437.2 1038.3 L1438.3 1042.6 L1433.9 1041.5 L1430.7 1035 L1425.2 1029.6 L1423 1025.2 L1424.1 1019.8 L1428.5 1017.6 L1427.4 1012.2 L1420.9 1005.7 L1415.4 999.1 L1410 992.6 L1403.5 989.3 L1395.9 988.3 L1388.3 991.5 L1387.2 999.1 L1389.3 1007.8 L1392.6 1015.4 L1395.9 1019.8 L1403.5 1022 L1408.9 1026.3 L1403.5 1031.7 L1399.1 1037.2 L1392.6 1040.4 L1386.1 1041.5 L1381.7 1037.2 L1378.5 1036.1 L1377.4 1042.6 L1373 1047 L1368.7 1049.1 L1375.2 1051.3 L1383.9 1054.6 L1390.4 1052.4 L1392.6 1056.7 L1399.1 1058.9 L1405.7 1062.2 L1412.2 1066.5 L1416.5 1072 L1422 1069.8 L1425.2 1074.1 L1427.4 1066.5 L1429.6 1060 L1438.3 1058.9 L1447 1057.8 L1450.2 1063.3 L1455.7 1066.5 L1460 1074.1 L1462.2 1081.7 L1464.3 1085 L1470.9 1080.7 L1479.6 1079.6 L1488.3 1082.8 L1495.9 1088.3 L1505.7 1092.6 L1514.3 1092.2 L1522 1093.7 L1525.7 1100.2 L1524.1 1106.7 L1520.9 1112.2 L1524.1 1118.7 L1523 1126.3 L1516.5 1131.7 L1507.8 1136.1 L1497 1138.3 L1486.1 1140.4 L1485 1142.6 L1494.8 1144.8 L1505.7 1148 L1516.5 1152.4 L1510 1155.7 L1511.1 1164.3 L1514.3 1170.9 L1517.6 1177.4 L1518.7 1183.9 L1514.3 1188.3 L1520.9 1189.3 L1529.6 1188.3 L1533.9 1183.9 L1540.4 1179.6 L1547 1178.5 L1549.1 1181.7 L1542.6 1186.1 L1542.6 1192.6 L1549.1 1195.9 L1554.6 1190.4 L1558.9 1195.9 L1555.7 1202.4 L1561.1 1205.7 L1566.5 1201.3 L1574.1 1199.1 L1576.3 1202.4 L1570.9 1208.9 L1573 1213.3 L1566.5 1218.7 L1560 1225.2 L1553.5 1228.5 L1547 1223 L1540.4 1222 L1538.3 1216.5 L1531.7 1219.8 L1525.2 1225.2 L1519.8 1229.6 L1520.9 1236.1 L1524.1 1244.8 L1529.6 1240.4 L1538.3 1238.3 L1547 1239.3 L1555.7 1242.6 L1566.5 1242.6 L1579.6 1243.7 L1592.6 1241.5 L1605.7 1242.6 L1618.7 1240.4 L1631.7 1239.3 L1647 1238.3 L1662.2 1236.1 L1677.4 1234.3 L1683.7 1235.4 L1803.5 1235.4 L1803.5 892.6Z"/>
<path d="M1683.7 1235.4 L1680.4 1238.7 L1671.7 1240.9 L1666.3 1243.5 L1664.1 1248.9 L1659.8 1252.2 L1650 1250.4 L1640.2 1252.2 L1639.1 1257.6 L1642.4 1262 L1637 1264.1 L1641.3 1268.5 L1639.1 1271.3 L1628.3 1270.7 L1617.4 1270 L1606.5 1269.1 L1595.7 1270.7 L1587 1271.3 L1580.4 1270 L1576.1 1273.9 L1565.2 1276.1 L1552.2 1277.2 L1547.8 1282.6 L1539.1 1285.9 L1539.1 1288 L1547.8 1290.2 L1556.5 1293.5 L1565.2 1290.2 L1576.1 1289.1 L1584.8 1291.3 L1587 1283.7 L1591.3 1278.3 L1600 1276.1 L1608.7 1277.2 L1619.6 1276.1 L1630.4 1275 L1641.3 1275 L1650 1270.7 L1654.3 1271.7 L1653.3 1277.2 L1650 1282.6 L1643.5 1283.7 L1637 1287 L1629.3 1289.1 L1634.8 1291.3 L1641.3 1289.1 L1646.7 1293.5 L1647.8 1297.8 L1641.3 1300 L1630.4 1302.2 L1631.5 1307.6 L1639.1 1305.4 L1647.8 1303.3 L1653.3 1300 L1657.6 1293.5 L1663 1289.1 L1671.7 1284.8 L1678.3 1281.5 L1676.1 1276.1 L1671.7 1271.7 L1670.7 1266.3 L1675 1264.1 L1679.3 1268.5 L1677.2 1271.7 L1682.6 1270.7 L1692.4 1269.6 L1696.7 1265.2 L1692.4 1264.1 L1701.1 1258.7 L1704.3 1263 L1706.5 1267.4 L1715.2 1269.6 L1718.5 1267.4 L1726.1 1270.7 L1730.4 1275 L1728.3 1282.6 L1734.8 1284.8 L1743.5 1283.7 L1752.2 1287 L1756.5 1291.3 L1759.8 1297.8 L1763 1302.2 L1767.4 1295.7 L1765.2 1290.2 L1771.7 1285.9 L1775 1279.3 L1780.4 1282.6 L1789.1 1283.7 L1795.7 1287 L1800 1289.1 L1813 1290.2 L1813 1230.4 L1683.7 1230.4Z"/>
<path d="M1813 1294.6 L1800 1295.7 L1791.3 1300 L1788 1308.7 L1800 1308.7 L1813 1308.7Z"/>
</g>
<g id="sea" fill="#f6f6f6" stroke="none">
<path d="M1641.1 486.5 L1641.1 489.1 L1642.2 495.2 L1643.3 501.7 L1643.3 506.1 L1636.7 506.1 L1632.4 509.3 L1631.7 514.8 L1634.6 521.3 L1640 526.7 L1643.3 532.2 L1649.8 537.6 L1648.7 542 L1655.2 548.5 L1661.7 553.9 L1668.3 559.3 L1679.1 564.8 L1692.2 570.2 L1705.2 575.7 L1720.4 582.2 L1731.3 586.5 L1744.3 589.8 L1757.4 594.1 L1770.4 597.4 L1783.5 600.2 L1794.3 599.6 L1800.2 601.7 L1813.9 602.8 L1813.9 486.5Z"/>
<path d="M1503 696.3 L1507.4 695.2 L1516.1 690.9 L1524.8 686.5 L1531.3 683.3 L1534.6 675.7 L1540 671.3 L1546.5 667 L1553 662.6 L1554.1 653.9 L1557.4 647.4 L1560.7 642.6 L1574.8 640.4 L1587.8 637.6 L1596.5 636.5 L1605.2 638.3 L1613.9 642.6 L1622.6 643.5 L1629.1 643 L1632.4 636.5 L1640 632.2 L1650.9 629.6 L1661.7 627.8 L1668.3 627.4 L1674.8 628.9 L1685.7 630 L1696.5 632.2 L1705.2 635.4 L1713.9 639.8 L1717.2 640.9 L1718.3 636.5 L1722.6 636.1 L1724.8 643 L1733.5 644.1 L1744.3 643 L1753 642 L1761.7 643 L1770.4 639.8 L1779.1 636.5 L1785.7 633.3 L1787.8 640.9 L1794.3 645.2 L1809.6 648.5 L1809.6 690.4 L1800.2 690.9 L1787.8 692 L1779.1 695.2 L1770.4 699.6 L1759.6 703.9 L1752 709.3 L1755.2 712.6 L1763.9 714.8 L1772.6 719.1 L1781.3 720.2 L1790 718 L1800.2 719.1 L1809.6 719.1 L1809.6 726.7 L1797.6 727.8 L1794.3 733.3 L1787.8 734.8 L1774.8 735.4 L1766.1 732.2 L1755.2 730 L1744.3 731.1 L1733.5 734.8 L1722.6 733.3 L1711.7 730 L1696.5 728.9 L1679.1 727.8 L1666.1 728.9 L1653 730 L1640 732.6 L1629.1 736.5 L1624.8 734.3 L1620.4 730 L1629.1 726.7 L1635.7 722.4 L1639.6 718 L1635.7 715.9 L1624.8 713.7 L1613.9 711.5 L1603 710.4 L1592.2 711.5 L1587.8 714.8 L1592.2 720.2 L1598.7 724.6 L1605.2 730 L1611.7 732.2 L1615 733.3 L1609.6 736.5 L1603 742 L1596.5 743.5 L1587.8 742 L1579.1 739.8 L1570.4 743 L1563.9 744.1 L1555.2 742.6 L1544.3 738.7 L1535.7 734.3 L1530.2 730 L1533.5 726.7 L1530.2 721.3 L1527 718 L1520.4 720.2 L1513.9 722.4 L1505.2 721.3 L1503 721.7Z"/>
<path d="M1342.2 678.9 L1338.9 680 L1337.8 675.7 L1333.5 670.2 L1327 664.8 L1318.3 662.2 L1305.2 661.5 L1292.2 660.4 L1279.1 659.3 L1266.1 660.4 L1253 656.1 L1242.2 652.8 L1235.7 648.5 L1229.1 647.4 L1222.6 649.6 L1211.7 648.5 L1203 646.3 L1204.1 642 L1200.9 637.6 L1192.2 638.7 L1185.7 643 L1182.4 647.4 L1174.8 649.6 L1166.1 651.7 L1157.4 656.1 L1150.9 660.4 L1141.1 660.4 L1140 665.9 L1138.9 660.4 L1133.5 657.8 L1127 659.3 L1121.5 652.8 L1116.1 646.3 L1109.6 645.7 L1098.7 647 L1090 649.6 L1082.4 655 L1080.2 660.4 L1081.1 658.4 L1079.5 663.9 L1075.6 669 L1064 674 L1051.6 678.6 L1041.5 681 L1032.9 679.4 L1020.5 674.8 L1008.1 671.6 L998.8 673.2 L990.2 678.6 L986.3 687.2 L991 690.3 L996.4 694.9 L1001.9 701.1 L1008.1 705 L1017.4 706.6 L1022.4 709.7 L1011.2 709.7 L1006.5 713.6 L1007.3 719.8 L1011.2 725.2 L1017.4 729.1 L1025.2 731.1 L1032.9 729.9 L1035.2 726.8 L1032.9 722.9 L1036 725.2 L1039.9 731.4 L1048.4 735.3 L1056.2 736.9 L1062.4 740.7 L1068.6 742.3 L1074.8 748.5 L1078 753.2 L1084.2 757.8 L1090.4 761.7 L1093.5 765.6 L1091.9 768.7 L1084.2 770.2 L1078 771 L1075.6 767.1 L1070.2 762.5 L1067.1 757.8 L1064 753.2 L1060.9 748.5 L1054.7 744.6 L1045.3 743.9 L1036 741.5 L1028.3 737.6 L1022 734.5 L1014.3 733 L1006.5 733.8 L994.1 736.1 L988.7 739.2 L987.1 745.4 L991 751.6 L997.2 756.3 L1000.3 759.4 L1008.1 761.7 L1017.4 764 L1025.2 767.9 L1031.4 771.8 L1032.9 778 L1035.2 784.2 L1032.9 788.9 L1031.4 793.5 L1026.7 797.4 L1023.6 799 L1019.7 796.6 L1015.1 792 L1009.6 788.9 L1003.4 784.2 L1000.3 778 L997.2 771.8 L992.5 767.1 L987.9 760.9 L981.7 755.5 L970.8 753.2 L961.5 750.8 L952.2 748.5 L942.9 747 L936.6 750.8 L932 756.3 L935.1 762.5 L939.8 767.1 L946 770.2 L949.1 774.9 L952.2 780.3 L958.4 784.2 L967.7 787.3 L977 790.4 L984.8 792.8 L987.1 798.2 L994.1 799.8 L994.9 802.1 L989.4 803.6 L980.1 801.3 L970.8 799 L961.5 795.9 L952.2 793.5 L944.4 795.1 L935.9 796.6 L939.8 792 L939 786.6 L934.3 781.1 L931.2 777.2 L927.3 774.1 L929.7 768.7 L930.4 762.5 L930.4 755.5 L924.2 753.2 L914.9 750.1 L905.6 747 L896.3 743.1 L887 740 L882.3 736.1 L874.5 732.2 L866.8 731.4 L862.1 725.2 L858.2 719 L853.6 715.1 L855.9 712.8 L865.2 712.8 L874.5 709.7 L880 705.8 L876.1 701.9 L875.3 694.9 L868.3 692.6 L862.1 693.4 L857.5 696.5 L859 698.8 L852.8 701.1 L845 705 L841.9 706.6 L840.4 711.2 L833.4 709.7 L828.7 712.8 L829.5 716.7 L820.2 719 L823.3 723.7 L824.8 731.4 L831.1 735.3 L826.4 740.7 L821.7 748.5 L818.6 757.8 L814 767.1 L816.3 776.5 L820.2 785.8 L826.4 791.2 L837.3 795.9 L839.6 802.9 L846.6 809.1 L853.6 813.7 L859.8 818.4 L862.1 826.1 L865.2 835.5 L868.3 843.2 L872.2 851 L880.7 855.7 L887 859.5 L894.7 863.4 L894.2 862.7 L899.6 868.1 L906.3 874.8 L913 881.5 L918.4 886.9 L922.5 891.6 L925.2 897.7 L929.2 903.1 L932.6 907.8 L934.6 911.8 L931.9 915.8 L926.5 917.9 L919.8 919.9 L914.4 921.2 L907.7 923.3 L899.6 925.3 L892.9 926.6 L890.2 924.6 L905 924 L1050 924 L1342 924 L1342 690Z"/>
<path d="M672.7 1037.9 L678.1 1036.5 L684.8 1037.2 L691.5 1039.2 L696.9 1040.6 L697.6 1035.2 L702.3 1032.5 L707 1031.1 L711.7 1034.5 L717.1 1032.5 L721.8 1029.1 L727.8 1029.1 L734.6 1031.1 L740 1031.1 L744 1033.8 L749.4 1035.2 L754.8 1037.9 L758.8 1041.9 L762.8 1037.9 L768.2 1035.8 L774.9 1036.5 L780.3 1035.8 L787.1 1039.2 L789.8 1033.8 L793.1 1029.8 L791.8 1024.4 L796.5 1025.1 L800.5 1027.1 L798.7 1024.9 L800 1026.2 L804 1030.9 L808.1 1036.3 L810.8 1041 L813.5 1046.4 L817.5 1047.7 L820.2 1044.4 L820.9 1039 L824.2 1034.9 L828.9 1032.3 L832.3 1033.6 L833 1039 L837.7 1043 L844.4 1045.7 L850.5 1048.4 L849.8 1051.8 L846.4 1053.8 L851.1 1055.8 L857.9 1055.1 L864.6 1055.8 L870 1059.2 L875.4 1058.5 L883.4 1059.2 L890.2 1061.2 L894.2 1063.2 L898.2 1059.8 L902.3 1061.9 L906.3 1065.9 L911.7 1065.9 L915.7 1067.9 L914.4 1072 L911.7 1075.3 L906.3 1078.7 L899.6 1080.7 L892.9 1081.4 L886.1 1080.7 L879.4 1079.4 L874 1078.7 L868.6 1080.7 L863.3 1083.4 L859.2 1086.1 L864.6 1088.8 L871.3 1091.5 L876.7 1094.2 L879.4 1097.5 L875.4 1100.2 L870 1102.2 L863.3 1103.6 L856.5 1102.2 L851.1 1099.5 L847.1 1095.5 L841.7 1091.5 L835 1087.4 L826.9 1083.4 L820.2 1079.4 L813.5 1075.3 L806.7 1071.3 L802.7 1069.9 L798.7 1070.6 L799.2 1069.5 L792.4 1070.2 L785.7 1067.5 L781.7 1064.1 L774.9 1064.8 L766.9 1064.1 L761.5 1061.4 L756.1 1059.4 L752.1 1054 L748 1050.7 L742.7 1051.3 L737.3 1048.6 L734.6 1044.6 L729.2 1042.6 L723.8 1041.2 L717.1 1040.6 L709 1039.2 L700.9 1041.9 L695.5 1045.9 L692.2 1051.3 L688.8 1058.1 L684.8 1062.8 L679.4 1066.8 L672.7 1069.5Z"/>
</g>
<g id="heat2">
<path d="M1115.1 679 L1128.3 670.7 L1144.9 675.7 L1148.2 692.3 L1128.3 702.2 L1113.4 692.3Z" fill="#fbd9c8" filter="url(#b4)"/>
<path d="M1125 680.7 L1133.3 678.2 L1139.9 683.1 L1133.3 687.3 L1126.7 685.6Z" fill="#f3aa90" filter="url(#b6)"/>
<path d="M1065.4 748.6 L1073.7 751.9 L1091.9 765.1 L1080.3 770.1 L1068.7 758.5Z" fill="#fbdccd" filter="url(#b4)"/>
<path d="M1005.8 768.4 L1019 773.4 L1028.9 785 L1025.6 793.3 L1012.4 785Z" fill="#fbe6dd" filter="url(#b5)"/>
<path d="M1252 718 L1268.3 713 L1286.7 720.2 L1279.1 727.8 L1266.1 728.9Z" fill="#fbd9c8" filter="url(#b4)"/>
<path d="M1266.1 720.2 L1273.7 718 L1279.1 722.4 L1271.5 725.7Z" fill="#ee9f86" filter="url(#b5)"/>
</g>
<g id="borders" fill="none" stroke="#000" stroke-width="2.3" stroke-linejoin="round" stroke-linecap="round">
<path d="M300.9 486.5 L300.9 489.1 L303 495.2 L311.7 500.7 L322.6 505 L331.3 509.3 L335.7 512.2 L342.2 509.3 L353 511.5 L363.9 515.9 L370.4 519.1 L370.9 522.4 L367.2 524.6 L366.1 532.2 L367.2 540.9 L369.3 545.2 L365 550.7 L358.5 552.8 L348.7 551.3 L350.9 555 L357.4 557.2 L357 563.7 L353 569.1 L346.5 573.5 L343.9 578.9 L340 577.8 L343.3 582.2 L343.3 588.7 L346.5 592 L353 593 L357.4 597.4 L357.4 603.9 L353 610.4 L350.9 615.9 L345.9 617.4 L348.3 621.3 L347.6 630 L346.5 636.5 L348.7 642 L352 643 L346.5 647.4 L342.2 651.7 L338.9 662.6 L335 665.9 L336.7 669.1 L335.7 680 L331.3 686.5 L327.6 690.9 L331.3 695.2 L335.7 703.9 L338.9 711.5 L346.5 717 L354.1 722.4 L352.6 728.9 L352.6 737.6 L347.6 740.2 L343.9 739.1 L341.1 733.3 L335.7 727.8 L328 724.6 L323.7 726.7 L329.1 732.2 L335.7 739.8 L336.7 744.1 L344.3 751.7 L353 758.3 L363.9 762.6 L374.8 768 L385.7 772.4 L392.2 775.7 L396.5 780 L403 782.2 L409.6 786.5 L413.9 792 L419.3 797.4 L420.4 800.7 L417.2 803.5 L424.8 806.1 L432 809.3 L431.3 818 L429.1 823.5 L428.7 830 L431.3 836.5"/>
<path d="M577.4 661.5 L577 652.8 L566.1 650.7 L557.4 648.5 L553 652.8 L541.1 652.8 L536.7 640.9 L531.3 625.7 L520.4 623.5 L518.3 617 L512.8 609.3 L508.5 603.9 L507 595.2 L505.2 587.6 L510.7 584.3 L514.3 578.9 L510.7 573.5 L507.4 565.9 L499.8 560.4 L499.8 556.1 L511.7 552.8 L513.9 549.6 L509.6 543 L508.5 534.3 L507.8 526.7 L511.7 520.2 L515.7 519.1 L515.7 508.3 L518.3 506.1"/>
<path d="M518.3 506.1 L522.6 509.3 L528 507.2 L533.5 508.9 L541.1 507.2 L543.3 502.8 L547.6 499.6 L545.4 494.1 L543.3 489.1"/>
<path d="M518.3 506.1 L517.2 501.7 L523.7 497.4 L524.8 493 L522.6 489.1"/>
<path d="M335.7 512.2 L335.2 506.1 L333 501.7 L335.7 498.5 L333.5 495.2 L336.7 493 L335.7 489.1"/>
<path d="M877 586.5 L875.9 575.7 L878 571.3 L875.9 564.8 L877.4 556.1 L874.8 549.6 L875.2 543 L880.2 540.9 L883.5 535.4 L887.4 531.7 L885.7 525.7 L882.4 522.4 L877 521.3 L873.7 512.6 L868.3 506.1 L866.1 499.6 L862.8 495.2 L863.5 489.1"/>
<path d="M1381.3 532.2 L1382.4 526.7 L1385.7 518 L1388.9 514.8 L1400.9 514.3 L1413.9 513.7 L1419.3 508.3 L1418.3 500.7 L1422.6 495.2 L1431.3 493 L1442.2 492 L1450.9 489.8 L1460 489.1"/>
<path d="M1341.4 680.5 L1343.3 686.1 L1342.7 691.7 L1345.8 696 L1350.7 699.1 L1357 700.4 L1364.4 699.1 L1371.9 699.1 L1379.3 700 L1386.8 697.9 L1393 699.1 L1399.2 697 L1405.4 697.9 L1412.9 700 L1419.1 696 L1425.3 693.5 L1434 693.3 L1443.9 692.3 L1450.1 690.4 L1455.1 691.1 L1458.8 694.8 L1459.4 699.8 L1455.1 703.5 L1448.9 705.3 L1445.2 704.7 L1441.4 708.4 L1436.5 710.9 L1429 712.2 L1421.6 714 L1414.1 717.1 L1406.6 720.9 L1399.2 723.4 L1391.7 727.7 L1384.3 732 L1376.8 735.8 L1369.4 738.9 L1366.9 741.4 L1369.4 743.2 L1368.8 746.3 L1373.1 749.4 L1375.6 752.5 L1375.6 756.9 L1373.1 763.1 L1369.4 766.8 L1366.9 771.8 L1363.2 776.8 L1358.8 781.1 L1360.1 783 L1365.7 782.4 L1371.9 779.3 L1379.3 776.1 L1385.5 771.8 L1389.9 768.1 L1389.3 764.3 L1387.4 759.4 L1393 756.9 L1399.2 754.4 L1405.4 751.3 L1409.1 747 L1416.6 743.9 L1422.8 740.7 L1427.8 736.4 L1429 731.4 L1432.7 728.9 L1437.7 725.2 L1438.3 721.5 L1443.9 718.4 L1451.4 715.9 L1458.8 713.4 L1466.3 710.3 L1473.7 707.2 L1482.4 704.7 L1487.4 701 L1494.8 698.5 L1503.5 696.6 L1510 694.8 L1517.2 691.1"/>
<path d="M1517.2 721.5 L1510 721.5 L1503.5 721.1 L1498.6 722.1 L1493.6 725.2 L1489.9 730.2 L1483.7 731.1 L1476.2 730.8 L1470 728.3 L1463.8 729.6 L1456.3 728.9 L1447.6 729.6 L1441.4 732 L1436.5 736.4 L1430.2 742 L1424 746.3 L1419.1 748.2 L1415.3 752.5 L1411.6 756.3 L1405.4 758.8 L1399.2 760 L1394.8 760.6 L1394.2 765.6 L1394.8 770.6 L1393 773 L1388 774.3 L1386.8 779.3 L1383 784.2 L1376.8 787.3 L1370.6 789.2 L1363.8 788 L1360.1 791.7 L1358.2 796.6 L1356.3 802.9 L1355.7 807.8 L1354.5 812.8 L1356.3 816.5 L1357 821.5 L1354.5 825.8 L1357 831.4 L1358.8 837.6 L1357.6 843.9 L1354.5 848.2 L1350.1 851.3 L1347.6 856.3 L1345.8 862.5 L1342.7 867.5 L1344.5 871.2 L1352 873.7 L1359.4 873 L1366.9 871.2 L1369.4 872.4 L1373.1 869.9 L1380.6 868.7 L1388 868.7 L1395.5 865 L1404.2 861.9 L1412.9 860 L1421.6 858.1 L1431.5 855.7 L1441.4 853.8 L1451.4 852.5 L1460.1 853.8 L1465.7 850.1 L1471.2 849.4 L1476.2 851.9 L1476.8 856.3 L1474.3 860 L1473.7 865 L1468.8 867.5 L1463.2 868.7 L1461.9 873 L1456.3 875.5 L1453.9 879.3 L1455.1 882.4 L1452.6 886.1 L1446.4 889.8 L1440.2 892.9 L1436.5 894.8 L1435.2 901"/>
<path d="M1641.1 486.5 L1641.1 489.1 L1642.2 495.2 L1643.3 501.7 L1643.3 506.1 L1636.7 506.1 L1632.4 509.3 L1631.7 514.8 L1634.6 521.3 L1640 526.7 L1643.3 532.2 L1649.8 537.6 L1648.7 542 L1655.2 548.5 L1661.7 553.9 L1668.3 559.3 L1679.1 564.8 L1692.2 570.2 L1705.2 575.7 L1720.4 582.2 L1731.3 586.5 L1744.3 589.8 L1757.4 594.1 L1770.4 597.4 L1783.5 600.2 L1794.3 599.6 L1800.2 601.7 L1813.9 602.8"/>
<path d="M1503 696.3 L1507.4 695.2 L1516.1 690.9 L1524.8 686.5 L1531.3 683.3 L1534.6 675.7 L1540 671.3 L1546.5 667 L1553 662.6 L1554.1 653.9 L1557.4 647.4 L1560.7 642.6 L1574.8 640.4 L1587.8 637.6 L1596.5 636.5 L1605.2 638.3 L1613.9 642.6 L1622.6 643.5 L1629.1 643 L1632.4 636.5 L1640 632.2 L1650.9 629.6 L1661.7 627.8 L1668.3 627.4 L1674.8 628.9 L1685.7 630 L1696.5 632.2 L1705.2 635.4 L1713.9 639.8 L1717.2 640.9 L1718.3 636.5 L1722.6 636.1 L1724.8 643 L1733.5 644.1 L1744.3 643 L1753 642 L1761.7 643 L1770.4 639.8 L1779.1 636.5 L1785.7 633.3 L1787.8 640.9 L1794.3 645.2 L1809.6 648.5"/>
<path d="M1809.6 690.4 L1800.2 690.9 L1787.8 692 L1779.1 695.2 L1770.4 699.6 L1759.6 703.9 L1752 709.3 L1755.2 712.6 L1763.9 714.8 L1772.6 719.1 L1781.3 720.2 L1790 718 L1800.2 719.1 L1809.6 719.1"/>
<path d="M1809.6 726.7 L1797.6 727.8 L1794.3 733.3 L1787.8 734.8 L1774.8 735.4 L1766.1 732.2 L1755.2 730 L1744.3 731.1 L1733.5 734.8 L1722.6 733.3 L1711.7 730 L1696.5 728.9 L1679.1 727.8 L1666.1 728.9 L1653 730 L1640 732.6 L1629.1 736.5 L1624.8 734.3 L1620.4 730 L1629.1 726.7 L1635.7 722.4 L1639.6 718 L1635.7 715.9 L1624.8 713.7 L1613.9 711.5 L1603 710.4 L1592.2 711.5 L1587.8 714.8 L1592.2 720.2 L1598.7 724.6 L1605.2 730 L1611.7 732.2 L1615 733.3 L1609.6 736.5 L1603 742 L1596.5 743.5 L1587.8 742 L1579.1 739.8 L1570.4 743 L1563.9 744.1 L1555.2 742.6 L1544.3 738.7 L1535.7 734.3 L1530.2 730 L1533.5 726.7 L1530.2 721.3 L1527 718 L1520.4 720.2 L1513.9 722.4 L1505.2 721.3 L1503 721.7"/>
<path d="M1785.7 633.3 L1791.1 627.8 L1795.4 619.1 L1800.2 610"/>
<path d="M1787.8 634.8 L1793.3 630 L1797.6 621.3 L1800.9 613.7"/>
<path d="M1776.5 629.6 L1778 633.3 L1782.4 635.4"/>
<path d="M1437.8 493.5 L1446.5 494.1 L1453 492 L1461.7 490.9 L1472.6 489.1"/>
<path d="M1546.5 489.1 L1553 493 L1561.7 495.2 L1568.3 502.8 L1570.4 498.5 L1579.1 495.2 L1592.2 493 L1603 492 L1608.5 496.3 L1611.7 490.9 L1620.4 489.8 L1631.3 490.4 L1641.1 492"/>
<path d="M1435.2 892.6 L1436.5 894.8 L1436.1 899.1 L1442.6 902.4 L1444.8 910 L1451.3 914.3 L1457.8 917.6 L1463.3 923 L1466.5 929.6 L1460 932.8 L1454.6 935 L1453.5 942.6 L1454.6 948 L1460 951.3 L1466.5 950.2 L1477.4 948 L1486.1 951.3 L1490.4 949.1 L1492.6 953.5 L1493.7 958.9 L1486.1 961.1 L1479.6 964.3 L1477.4 967.6 L1468.7 967.6 L1472 973 L1468.7 978.5 L1460 976.3 L1451.3 978.5 L1444.8 980.7 L1442.6 986.1 L1447 990.4 L1445.9 995.9 L1451.3 999.1 L1455.7 1004.6 L1460 1010 L1464.3 1014.3 L1468.7 1018.7 L1475.2 1023 L1486.1 1020.9 L1497 1022 L1506.7 1020.9 L1509.6 1022.6 L1503.5 1025.2 L1497 1028.5 L1486.1 1030.7 L1475.2 1031.7 L1464.3 1033.9 L1453.5 1036.1 L1447 1031.7 L1443.7 1027.4 L1439.3 1027.4 L1436.1 1031.7 L1437.2 1038.3 L1438.3 1042.6 L1433.9 1041.5 L1430.7 1035 L1425.2 1029.6 L1423 1025.2 L1424.1 1019.8 L1428.5 1017.6 L1427.4 1012.2 L1420.9 1005.7 L1415.4 999.1 L1410 992.6 L1403.5 989.3 L1395.9 988.3 L1388.3 991.5 L1387.2 999.1 L1389.3 1007.8 L1392.6 1015.4 L1395.9 1019.8 L1403.5 1022 L1408.9 1026.3 L1403.5 1031.7 L1399.1 1037.2 L1392.6 1040.4 L1386.1 1041.5 L1381.7 1037.2 L1378.5 1036.1 L1377.4 1042.6 L1373 1047 L1368.7 1049.1 L1375.2 1051.3 L1383.9 1054.6 L1390.4 1052.4 L1392.6 1056.7 L1399.1 1058.9 L1405.7 1062.2 L1412.2 1066.5 L1416.5 1072 L1422 1069.8 L1425.2 1074.1 L1427.4 1066.5 L1429.6 1060 L1438.3 1058.9 L1447 1057.8 L1450.2 1063.3 L1455.7 1066.5 L1460 1074.1 L1462.2 1081.7 L1464.3 1085 L1470.9 1080.7 L1479.6 1079.6 L1488.3 1082.8 L1495.9 1088.3 L1505.7 1092.6 L1514.3 1092.2 L1522 1093.7 L1525.7 1100.2 L1524.1 1106.7 L1520.9 1112.2 L1524.1 1118.7 L1523 1126.3 L1516.5 1131.7 L1507.8 1136.1 L1497 1138.3 L1486.1 1140.4 L1485 1142.6 L1494.8 1144.8 L1505.7 1148 L1516.5 1152.4 L1510 1155.7 L1511.1 1164.3 L1514.3 1170.9 L1517.6 1177.4 L1518.7 1183.9 L1514.3 1188.3 L1520.9 1189.3 L1529.6 1188.3 L1533.9 1183.9 L1540.4 1179.6 L1547 1178.5 L1549.1 1181.7 L1542.6 1186.1 L1542.6 1192.6 L1549.1 1195.9 L1554.6 1190.4 L1558.9 1195.9 L1555.7 1202.4 L1561.1 1205.7 L1566.5 1201.3 L1574.1 1199.1 L1576.3 1202.4 L1570.9 1208.9 L1573 1213.3 L1566.5 1218.7 L1560 1225.2 L1553.5 1228.5 L1547 1223 L1540.4 1222 L1538.3 1216.5 L1531.7 1219.8 L1525.2 1225.2 L1519.8 1229.6 L1520.9 1236.1 L1524.1 1244.8 L1529.6 1240.4 L1538.3 1238.3 L1547 1239.3 L1555.7 1242.6 L1566.5 1242.6 L1579.6 1243.7 L1592.6 1241.5 L1605.7 1242.6 L1618.7 1240.4 L1631.7 1239.3 L1647 1238.3 L1662.2 1236.1 L1677.4 1234.3 L1683.7 1235.4"/>
<path d="M1439.3 985.7 L1442.6 986.1"/>
<path d="M1457.8 1010 L1463.3 1012.2"/>
<path d="M1419.8 898 L1425.2 897 L1431.7 899.1"/>
<path d="M1683.7 1235.4 L1680.4 1238.7 L1671.7 1240.9 L1666.3 1243.5 L1664.1 1248.9 L1659.8 1252.2 L1650 1250.4 L1640.2 1252.2 L1639.1 1257.6 L1642.4 1262 L1637 1264.1 L1641.3 1268.5 L1639.1 1271.3 L1628.3 1270.7 L1617.4 1270 L1606.5 1269.1 L1595.7 1270.7 L1587 1271.3 L1580.4 1270 L1576.1 1273.9 L1565.2 1276.1 L1552.2 1277.2 L1547.8 1282.6 L1539.1 1285.9 L1539.1 1288 L1547.8 1290.2 L1556.5 1293.5 L1565.2 1290.2 L1576.1 1289.1 L1584.8 1291.3 L1587 1283.7 L1591.3 1278.3 L1600 1276.1 L1608.7 1277.2 L1619.6 1276.1 L1630.4 1275 L1641.3 1275 L1650 1270.7 L1654.3 1271.7 L1653.3 1277.2 L1650 1282.6 L1643.5 1283.7 L1637 1287 L1629.3 1289.1 L1634.8 1291.3 L1641.3 1289.1 L1646.7 1293.5 L1647.8 1297.8 L1641.3 1300 L1630.4 1302.2 L1631.5 1307.6 L1639.1 1305.4 L1647.8 1303.3 L1653.3 1300 L1657.6 1293.5 L1663 1289.1 L1671.7 1284.8 L1678.3 1281.5 L1676.1 1276.1 L1671.7 1271.7 L1670.7 1266.3 L1675 1264.1 L1679.3 1268.5 L1677.2 1271.7 L1682.6 1270.7 L1692.4 1269.6 L1696.7 1265.2 L1692.4 1264.1 L1701.1 1258.7 L1704.3 1263 L1706.5 1267.4 L1715.2 1269.6 L1718.5 1267.4 L1726.1 1270.7 L1730.4 1275 L1728.3 1282.6 L1734.8 1284.8 L1743.5 1283.7 L1752.2 1287 L1756.5 1291.3 L1759.8 1297.8 L1763 1302.2 L1767.4 1295.7 L1765.2 1290.2 L1771.7 1285.9 L1775 1279.3 L1780.4 1282.6 L1789.1 1283.7 L1795.7 1287 L1800 1289.1 L1813 1290.2"/>
<path d="M1813 1294.6 L1800 1295.7 L1791.3 1300 L1788 1308.7 L1800 1308.7 L1813 1308.7"/>
</g>
<g id="isl" fill="#b8b8b8" stroke="#000" stroke-width="2.4" stroke-linejoin="round">
<path d="M320 712.2 L322.6 713 L324.3 717 L322.2 718 L319.6 714.8Z"/>
<path d="M1282.4 769.3 L1283.7 766.2 L1289.9 762.5 L1298.6 758.8 L1307.3 757.5 L1314.7 754.4 L1323.4 752.9 L1326.5 755.7 L1330.2 756.3 L1330.2 761.9 L1329 766.8 L1332.1 766.2 L1335.8 765 L1335.2 768.1 L1329.6 770.6 L1322.2 771.8 L1313.5 773.7 L1308.5 774.9 L1301.1 774.3 L1293.6 776.1 L1291.1 773.7 L1284.9 771.8Z"/>
<path d="M1327.4 814 L1334.6 812.5 L1342.7 813 L1345.8 815.3 L1346 820.2 L1342 822.1 L1337.1 819.6 L1332.1 817.1 L1328.4 815.9Z"/>
<path d="M1562.8 692 L1570.4 689.8 L1579.1 688.7 L1587.8 690.4 L1595.4 694.1 L1592.2 697.4 L1583.5 700.7 L1574.8 702.8 L1566.1 700.7 L1562.8 696.3Z"/>
<path d="M1554.1 707.2 L1561.7 706.5 L1565.7 710.4 L1561.7 715.9 L1557.4 719.1 L1556.3 714.8 L1559.1 710.9Z"/>
<path d="M1570 711.5 L1574.8 713.7 L1580.2 714.8 L1583.9 719.1 L1583.5 722.4 L1577 720.2 L1571.5 720.2 L1570.4 715.9Z"/>
<path d="M1712.2 704.3 L1717.8 703.9 L1716.5 707.8 L1717.8 711.5 L1714.3 713.5 L1711.7 710.9 L1713.9 707.4Z"/>
<path d="M1420.9 880.7 L1427.4 880 L1433.9 881.7 L1431.7 886.1 L1425.2 885Z"/>
<path d="M1423 888.3 L1431.7 889.3 L1433.9 894.8 L1427.4 895.9 L1422 892.6Z"/>
<path d="M1382.8 1023 L1387.2 1022 L1388.3 1025.7 L1383.9 1027Z"/>
<path d="M1438.3 1010 L1441.5 1008.9 L1443.7 1015.4 L1445.9 1020.9 L1441.5 1019.8 L1438.7 1015.4Z"/>
<path d="M1548 1243.7 L1553.5 1244.8 L1557.8 1248 L1553.5 1249.1Z"/>
<path d="M1638 1288 L1642.4 1290.2 L1644.6 1294.6 L1640.2 1293.5Z"/>
</g>
<g id="greece" fill="none" stroke="#000" stroke-width="3.6" stroke-linejoin="round" stroke-linecap="round">
<path d="M431.3 836.5 L435.7 835.4 L444.3 838.7 L452 842 L459.6 840.9 L465 836.5 L470.4 831.7 L474.8 827.8 L474.3 821.3 L479.1 818 L485.7 821.3 L492.2 815.9 L493.3 811.5 L487.8 803.9 L482.4 796.3 L478 792 L485.7 792 L492.2 784.3 L496.5 781.1 L507.4 781.1 L511.7 777.8 L520.4 777.8 L531.3 773.5 L532.4 764.8 L537.8 758.3 L536.7 749.6 L542.2 743 L548.7 736.5 L548.7 726.7 L555.2 721.3 L561.7 717 L572.6 718 L575.9 712.6 L582.4 708.3 L587.8 699.6 L588.9 688.7 L583.5 681.1 L579.1 674.6 L575.9 672.4 L578 664.8 L577.4 661.5 L577.4 661.5 L592.2 660.9 L605.2 659.3 L611.7 656.5 L618.3 659.3 L629.1 658.3 L642.2 652.8 L660 651.7"/>
<path d="M375.9 825.7 L381.3 820.2 L392.2 819.1 L402 819.1 L408.5 815.9 L413.9 819.1 L420.4 820.9 L424.8 823.5 L423.7 827.8 L418.3 831.1 L411.7 833.3 L407.4 836.5 L407 842 L410.7 847.4 L416.1 849.6 L419.3 847.4 L420.4 851.7 L418.7 858.3 L420.4 864.8 L423.7 870.2 L431.3 873.5 L436.7 874.6 L441.1 870.2 L445.4 877.8 L449.8 883.9 L447.6 886.5 L440 883.3 L431.3 880 L422.6 876.7 L413.9 871.3 L409.6 864.8 L407.4 857.2 L402 852.8 L395.4 847.4 L390 840.9 L384.6 837.6 L379.1 832.2Z"/>
<path d="M457.4 842 L457 849.6 L454.1 853.9 L455.2 858.3 L452 862.6 L454.1 865.9 L461.7 865.9 L467.2 869.1 L468.3 873.5 L462.8 875.7 L467.2 878.9 L468.3 881.7"/>
<path d="M633.5 652.8 L640 652.8 L648.7 651.7 L659.6 652.8 L667.2 659.3 L674.8 656.1 L683.5 648.5 L692.2 647.4 L699.8 647.4 L702 642 L709.6 636.5 L717.2 631.1 L717.2 624.6 L727 619.1 L735.7 618 L741.1 614.8 L746.5 618 L753 619.1 L758.5 614.8 L765 613 L774.8 614.8 L781.3 619.1 L792.2 618 L796.5 621.3 L805.2 620.9 L816.1 619.1 L823.7 615.9 L829.1 610.4 L833.5 612.6 L836.7 617 L841.1 618 L844.3 612.6 L845.4 600.7 L846.1 590.9 L852 588 L866.1 587 L877 586.5 L890 588.7 L903 589.8 L912.8 588.7 L917.2 583.9 L924.8 580 L932.4 583.3 L942.2 578.9 L953 577.8 L963.9 579.6 L974.8 580.4 L983.5 576.7 L996.5 575.7 L1007.4 571.3 L1019.3 567 L1029.1 570.2 L1040 567 L1042.2 558.3 L1050.9 556.1 L1060 557.2"/>
<path d="M1081.1 658.4 L1079.5 663.9 L1075.6 669 L1064 674 L1051.6 678.6 L1041.5 681 L1032.9 679.4 L1020.5 674.8 L1008.1 671.6 L998.8 673.2 L990.2 678.6 L986.3 687.2 L991 690.3 L996.4 694.9 L1001.9 701.1 L1008.1 705 L1017.4 706.6 L1022.4 709.7 L1011.2 709.7 L1006.5 713.6 L1007.3 719.8 L1011.2 725.2 L1017.4 729.1 L1025.2 731.1 L1032.9 729.9 L1035.2 726.8 L1032.9 722.9 L1036 725.2 L1039.9 731.4 L1048.4 735.3 L1056.2 736.9 L1062.4 740.7 L1068.6 742.3 L1074.8 748.5 L1078 753.2 L1084.2 757.8 L1090.4 761.7 L1093.5 765.6 L1091.9 768.7 L1084.2 770.2 L1078 771 L1075.6 767.1 L1070.2 762.5 L1067.1 757.8 L1064 753.2 L1060.9 748.5 L1054.7 744.6 L1045.3 743.9 L1036 741.5 L1028.3 737.6 L1022 734.5 L1014.3 733 L1006.5 733.8 L994.1 736.1 L988.7 739.2 L987.1 745.4 L991 751.6 L997.2 756.3 L1000.3 759.4 L1008.1 761.7 L1017.4 764 L1025.2 767.9 L1031.4 771.8 L1032.9 778 L1035.2 784.2 L1032.9 788.9 L1031.4 793.5 L1026.7 797.4 L1023.6 799 L1019.7 796.6 L1015.1 792 L1009.6 788.9 L1003.4 784.2 L1000.3 778 L997.2 771.8 L992.5 767.1 L987.9 760.9 L981.7 755.5 L970.8 753.2 L961.5 750.8 L952.2 748.5 L942.9 747 L936.6 750.8 L932 756.3 L935.1 762.5 L939.8 767.1 L946 770.2 L949.1 774.9 L952.2 780.3 L958.4 784.2 L967.7 787.3 L977 790.4 L984.8 792.8 L987.1 798.2 L994.1 799.8 L994.9 802.1 L989.4 803.6 L980.1 801.3 L970.8 799 L961.5 795.9 L952.2 793.5 L944.4 795.1 L935.9 796.6 L939.8 792 L939 786.6 L934.3 781.1 L931.2 777.2 L927.3 774.1 L929.7 768.7 L930.4 762.5 L930.4 755.5 L924.2 753.2 L914.9 750.1 L905.6 747 L896.3 743.1 L887 740 L882.3 736.1 L874.5 732.2 L866.8 731.4 L862.1 725.2 L858.2 719 L853.6 715.1 L855.9 712.8 L865.2 712.8 L874.5 709.7 L880 705.8 L876.1 701.9 L875.3 694.9 L868.3 692.6 L862.1 693.4 L857.5 696.5 L859 698.8 L852.8 701.1 L845 705 L841.9 706.6 L840.4 711.2 L833.4 709.7 L828.7 712.8 L829.5 716.7 L820.2 719 L823.3 723.7 L824.8 731.4 L831.1 735.3 L826.4 740.7 L821.7 748.5 L818.6 757.8 L814 767.1 L816.3 776.5 L820.2 785.8 L826.4 791.2 L837.3 795.9 L839.6 802.9 L846.6 809.1 L853.6 813.7 L859.8 818.4 L862.1 826.1 L865.2 835.5 L868.3 843.2 L872.2 851 L880.7 855.7 L887 859.5 L894.7 863.4"/>
<path d="M1046.5 556.1 L1055.2 557.2 L1060.7 561.5 L1066.1 555 L1072.6 552.8 L1079.1 561.5 L1090 558.3 L1096.5 559.3 L1103 555 L1111.7 552.8 L1116.1 557.2 L1118.3 564.8 L1123.7 571.3 L1127 574.6 L1135.7 573.5 L1144.3 576.7 L1148.7 581.1 L1153 586.5 L1155.2 578.9 L1161.7 578.9 L1168.3 576.7 L1174.8 580 L1183.5 582.2 L1192.2 586.5 L1200.9 587.6 L1209.6 592 L1216.1 597.4 L1219.3 601.7 L1227 602.8 L1235.7 600.7 L1246.5 597.4 L1255.2 595.2 L1262.8 596.3 L1266.1 592 L1274.8 590.9 L1281.3 593 L1290 592 L1298.7 588.7 L1307.4 586.5 L1315 592 L1322.6 590.9 L1333.5 587.6 L1344.3 586.5 L1353 584.3 L1357.4 577.8 L1363.9 573.5 L1358.5 568 L1360.7 560.4 L1357.4 555 L1356.3 546.3 L1350.9 543 L1344.3 538.7 L1343.3 532.2 L1348.7 528.9 L1359.6 526.1 L1370.4 528.3 L1381.3 532.2 L1392.2 534.3 L1400.9 537.6 L1409.6 540.9 L1416.1 545.2 L1423.7 547.4 L1424.8 556.1 L1427 567 L1429.1 577.8 L1427 586.5 L1418.3 589.8 L1409.6 588.7 L1400.9 595.2 L1392.2 599.6 L1382.4 600.7 L1381.3 610.4 L1380.2 621.3 L1383.5 630 L1388.9 635.4 L1384.6 643 L1385.7 649.6 L1377 653.9 L1368.3 660.4 L1363.9 667 L1355.2 671.3 L1350.9 677.8 L1342.2 678.9"/>
<path d="M1037.8 682.2 L1044.3 681.1 L1053 677.8 L1061.7 673.5 L1070.4 669.1 L1078 665.9 L1080.2 660.4 L1082.4 655 L1090 649.6 L1098.7 647 L1109.6 645.7 L1116.1 646.3 L1121.5 652.8 L1127 659.3 L1133.5 657.8 L1138.9 660.4 L1140 665.9 L1141.1 660.4 L1150.9 660.4 L1157.4 656.1 L1166.1 651.7 L1174.8 649.6 L1182.4 647.4 L1185.7 643 L1192.2 638.7 L1200.9 637.6 L1204.1 642 L1203 646.3 L1211.7 648.5 L1222.6 649.6 L1229.1 647.4 L1235.7 648.5 L1242.2 652.8 L1253 656.1 L1266.1 660.4 L1279.1 659.3 L1292.2 660.4 L1305.2 661.5 L1318.3 662.2 L1327 664.8 L1333.5 670.2 L1337.8 675.7 L1338.9 680 L1342.2 678.9"/>
<path d="M1109.6 692 L1112.8 682.2 L1118.3 674.6 L1129.1 669.1 L1137.8 672.4 L1146.5 673.5 L1150.9 678.9 L1148.7 684.3 L1150.9 689.8 L1149.8 697.4 L1142.2 699.6 L1133.5 701.7 L1125.9 705 L1122.6 699.6 L1113.9 696.3Z"/>
<path d="M1249.8 718 L1257.4 713.7 L1268.3 712.2 L1279.1 714.3 L1287.8 719.1 L1288.9 725.7 L1279.1 728.9 L1270.4 731.1 L1263.9 727.8 L1255.2 722.4Z"/>
<path d="M1187.8 790.9 L1196.5 788.7 L1202 785.4 L1207.4 788.7 L1218.3 787.6 L1224.8 790.9 L1227 797.4 L1233.5 793 L1238.9 786.5 L1245.4 784.3 L1250.9 783.3 L1249.8 790.9 L1244.3 797.4 L1238.9 803.9 L1236.7 810.4 L1238.9 818 L1235.7 822.4 L1229.1 820.2 L1224.8 815.9 L1219.3 810.4 L1221.5 805 L1217.2 802.8 L1213.9 807.2 L1216.1 812.6 L1218.3 819.1 L1209.6 820.2 L1204.1 818 L1207.4 812.6 L1202 810.4 L1196.5 811.5 L1190 812.6 L1192.2 805 L1193.3 797.4 L1190 794.1Z"/>
<path d="M1178 862.6 L1182.4 853.9 L1192.2 859.3 L1187.8 865.9 L1181.3 869.1 L1178 868Z"/>
<path d="M468.3 881 L471.1 881.9 L473.5 886.8 L474.8 891.2 L479.8 894.9 L486 897.4 L493.4 897.4 L500.9 898 L502.7 901.7 L502.1 906.1 L507.1 909.2 L512 912.3 L517 917.3 L522 921 L528.2 924.7 L533.2 927.8 L537.5 932.2 L538.8 936.5 L543.1 935.9 L546.8 931.6 L549.3 927.8 L555.5 929.1 L564.2 927.8 L571.7 930.3 L573.5 934 L579.1 936.5 L586.6 937.8 L590.3 932.8 L595.3 931.6 L600.2 935.9 L604 940.9 L607.1 944 L602.1 945.8 L602.7 952 L606.5 954.5 L607.7 959.5 L604 960.7 L601.5 954.5 L596.5 953.3 L593.4 959.5 L589.1 957 L585.3 952.7 L580.4 949.6 L574.2 948.3 L568 948.9 L563 950.8 L559.3 947.7 L554.3 950.2 L548.1 949.6 L544.3 949.6 L543.7 953.3 L546.8 956.4 L551.2 958.9 L545.6 960.7 L540.6 962.6 L541.2 967 L543.1 971.9 L546.2 975.7 L551.8 973.8 L556.1 970.7 L562.4 970.4 L564.2 975.7 L566.1 981.9 L568 986.8 L572.9 989.3 L579.1 989.9 L581.6 994.3 L584.7 999.3 L584.1 1005.5 L582.9 1010.4 L586.6 1013.5 L592.8 1010.4 L595.3 1011.7 L594.7 1016.6 L598.4 1022.9 L603.4 1028.4 L600.2 1031.6 L599 1036.5 L600.2 1041.5 L596.5 1047.1 L599.6 1043.4 L606.5 1044.6 L613.9 1044 L618.9 1040.9 L625.1 1037.8 L630.1 1034 L633.8 1029.7 L635 1024.7 L632.5 1020.4 L628.2 1017.9 L628.8 1015.4 L633.8 1019.1 L636.3 1025.3 L640 1030.3 L643.7 1034 L649.9 1035.9 L653.7 1040.2 L656.1 1047.1 L662.4 1042.7 L669.8 1039 L680 1036.3 L683.5 1035.3"/>
<path d="M538.8 936.5 L536.3 940.2 L538.8 944.6 L540.6 947.7 L544.3 949.6"/>
<path d="M545.6 940.9 L555.5 945.2"/>
<path d="M546.8 942.7 L554.9 944"/>
<path d="M540.6 962.6 L534.4 962 L529.4 964.5 L525.7 967.6 L522 971.9 L519.5 978.1 L517 983.1 L513.9 988.1 L513.9 994.3 L513.3 999.3 L511.4 1002.4 L513.3 1005.5 L516.4 1003 L518.9 998 L521.4 995.5 L524.5 999.3 L527 1003 L530.7 999.3 L533.8 998 L535.7 994.3 L538.1 992.4 L539.4 988.1 L538.1 983.1 L539.4 978.1 L538.8 973.2 L539.4 968.2 L541.2 964.5Z"/>
<path d="M561.1 999.3 L564.2 994.3 L569.2 991.2 L574.8 991.8 L574.2 995.5 L571.7 1000.5 L568.6 1005.5 L565.5 1009.2 L563 1006.7 L562.4 1002.4Z"/>
<path d="M565.5 1004.2 L570.4 995.5"/>
<path d="M522.6 1017.9 L527 1014.8 L531.9 1015.4 L533.8 1019.1 L535.7 1022.9 L538.1 1025.3 L536.3 1029.1 L539.4 1031.6 L543.1 1032.8 L544.3 1037.8 L546.8 1042.1 L543.1 1044 L538.1 1044.6 L535.7 1040.2 L533.2 1034 L530.1 1027.8 L527 1022.9 L524.5 1020.4Z"/>
<path d="M531.3 1022.9 L534.4 1031.6 L538.1 1040.2"/>
<path d="M534.4 1031.6 L539.4 1034"/>
<path d="M511.4 1018.5 L510.2 1024.1 L510.8 1029.1 L509.6 1032.8 L512.7 1035.9 L510.8 1039 L504.6 1044 L500.9 1042.7 L498.4 1040.2 L497.1 1036.5 L493.4 1035.9 L489.7 1037.1 L490.3 1041.5 L488.4 1046.5 L487.2 1050.2 L483.5 1052 L482.9 1056.4 L484.1 1059.5 L480.4 1060.7 L481 1065.1 L485.3 1066.3 L487.8 1068.8 L492.2 1067.6 L495.3 1066.3 L496.5 1061.4 L495.3 1056.4 L493.4 1050.8 L494.7 1048.3 L498.4 1048.9 L500.9 1055.2 L504.6 1060.7 L507.7 1065.1 L504.6 1067.6 L504 1071.9 L507.7 1075 L512 1076.3 L515.2 1077.5 L519.5 1075 L523.2 1073.2 L527.6 1074.4 L531.9 1077.5 L536.9 1080.6 L541.9 1081.9 L545.6 1080.6 L549.3 1082.5 L551.8 1077.5 L553.7 1073.8 L549.3 1068.8 L545.6 1063.9 L541.2 1058.9 L538.1 1055.2 L535.7 1050.2 L532.5 1048.3 L529.4 1052 L525.7 1052.7 L523.2 1048.9 L522.6 1045.8 L520.1 1045.2 L523.2 1043.4 L525.7 1040.2 L524.5 1034 L522 1027.8 L519.5 1022.9 L517.6 1018.5 L514.5 1017.6Z"/>
<path d="M580.4 1017.9 L589.1 1020.4 L594 1026.6 L596.5 1035.3"/>
<path d="M582.9 1015.4 L590.3 1016.6 L595.3 1021.6"/>
<path d="M449.3 904.8 L452.4 903.6 L458.6 907.6 L463.6 912.5 L468.6 917.3 L467.6 919.5 L462.4 917.5 L457.4 913.3 L452.2 909.6Z"/>
<path d="M450.6 905.5 L466.7 918.3"/>
<path d="M683.5 1065.7 L680 1066.3 L672.3 1069.4 L663.6 1067.6 L656.1 1065.1 L649.9 1062 L645 1063.2 L640 1060.1 L636.9 1059.5 L637.5 1065.1 L638.8 1070.1 L637.5 1075 L634.4 1078.8 L631.3 1085 L626.3 1091.2 L620.1 1096.1 L613.9 1100.5 L607.7 1103 L601.5 1101.7 L599.6 1106.1 L598.4 1111.1 L596.8 1114.2"/>
<path d="M596.5 1113.3 L605.2 1115.4 L613.9 1118.7 L622.6 1123 L628 1129.6 L629.1 1138.3 L627 1144.8 L631.3 1142.6 L640 1144.8 L648.7 1150.2 L660 1155.7 L666.1 1158.3"/>
<path d="M522.6 1112.2 L527 1104.6 L535.7 1099.1 L538.9 1105.7 L544.3 1112.2 L553 1114.3 L561.7 1116.5 L567.2 1119.8 L568.3 1124.1 L574.8 1128.5 L580.2 1131.7 L579.1 1136.1 L572.6 1134.3 L565 1132.8 L559.6 1137.2 L558.5 1142.6 L554.1 1144.3 L548.7 1140.4 L542.2 1135 L535.7 1129.6 L531.3 1123 L527 1118.7Z"/>
<path d="M672.7 1037.9 L678.1 1036.5 L684.8 1037.2 L691.5 1039.2 L696.9 1040.6 L697.6 1035.2 L702.3 1032.5 L707 1031.1 L711.7 1034.5 L717.1 1032.5 L721.8 1029.1 L727.8 1029.1 L734.6 1031.1 L740 1031.1 L744 1033.8 L749.4 1035.2 L754.8 1037.9 L758.8 1041.9 L762.8 1037.9 L768.2 1035.8 L774.9 1036.5 L780.3 1035.8 L787.1 1039.2 L789.8 1033.8 L793.1 1029.8 L791.8 1024.4 L796.5 1025.1 L800.5 1027.1"/>
<path d="M628.9 1018.4 L631.6 1023.1 L633 1027.1"/>
<path d="M672.7 1069.5 L679.4 1066.8 L684.8 1062.8 L688.8 1058.1 L692.2 1051.3 L695.5 1045.9 L700.9 1041.9 L709 1039.2 L717.1 1040.6 L723.8 1041.2 L729.2 1042.6 L734.6 1044.6 L737.3 1048.6 L742.7 1051.3 L748 1050.7 L752.1 1054 L756.1 1059.4 L761.5 1061.4 L766.9 1064.1 L774.9 1064.8 L781.7 1064.1 L785.7 1067.5 L792.4 1070.2 L799.2 1069.5"/>
<path d="M660.6 1155.6 L667.3 1161 L672.7 1166.4 L678.1 1173.1 L682.1 1179.2 L685.5 1185.9 L686.8 1192.6 L684.8 1198 L680.7 1202 L675.4 1206.1 L670 1210.1 L666.6 1215.5 L665.9 1220.9 L667.3 1226.3 L668 1231.7 L668.6 1234.3 L672.7 1241.1"/>
<path d="M894.2 862.7 L899.6 868.1 L906.3 874.8 L913 881.5 L918.4 886.9 L922.5 891.6 L925.2 897.7 L929.2 903.1 L932.6 907.8 L934.6 911.8 L931.9 915.8 L926.5 917.9 L919.8 919.9 L914.4 921.2 L907.7 923.3 L899.6 925.3 L892.9 926.6 L890.2 924.6 L891.5 920.6 L894.2 917.9 L892.9 913.8 L894.2 915.2 L899.6 916.5 L902.3 919.9 L909 919.2 L912.4 916.5 L914.4 912.5 L911.7 908.4 L909.7 903.1 L906.3 899 L900.9 895 L894.2 893 L887.5 891.6 L882.1 888.9 L875.4 887.6 L873.3 885.6 L872 888.9 L873.3 893.6 L865.9 895.7 L859.2 896.3 L854.5 898.4 L853.8 903.1 L855.2 908.4 L858.5 913.2 L859.9 916.5 L863.3 911.8 L867.3 913.8 L870 919.2 L875.4 921.9 L879.4 925.9 L880.7 930 L881.4 934 L876.7 936 L875.4 938.1 L882.1 938.7 L886.1 934.7 L891.5 934.7 L893.5 938.1 L886.1 940.7 L883.4 945.5 L878.1 948.8 L872.7 951.5 L864.6 952.9 L857.9 954.2 L851.1 956.2 L844.4 957.6 L837.7 956.9 L831 954.9 L825.6 952.9 L820.2 954.2 L814.8 956.9 L812.8 960.9 L815.5 964.3 L821.5 966.3 L829.6 963.6 L835 962.3 L839 966.3 L843.1 970.4 L847.1 973 L853.8 973 L859.2 975.7 L863.3 977.1 L867.3 974.4 L871.3 975.7 L876.7 977.1 L883.4 977.1 L888.8 978.4 L891.5 983.8 L893.5 987.8 L896.9 989.2 L898.2 995.9 L902.3 995.2 L906.3 993.2 L909 988.5 L913 989.2 L918.4 992.6 L923.8 993.2 L929.2 994.6 L932.6 997.9 L931.2 1001.3 L927.2 1003.3 L925.8 1006.7 L929.2 1008 L933.2 1010.1 L932.6 1014.8 L937.3 1012.7 L942.7 1013.4 L949.4 1015.4 L957.5 1016.8 L962.8 1014.8 L966.9 1016.8 L968.9 1021.5 L971.6 1024.9 L974.9 1028.2 L976.3 1033.6 L980.3 1037.6 L987.1 1039.7 L993.8 1041 L1001.9 1044.4 L1009.9 1047.1 L1018 1049.8 L1024.7 1052.4 L1031.5 1057.8 L1038.2 1062.5 L1042.2 1065.9 L1039.5 1069.9 L1032.8 1073.3 L1030.1 1078 L1031.5 1083.4 L1033.5 1088.8 L1036.2 1094.2 L1037.5 1100.9 L1036.9 1106.3 L1039.5 1111.7 L1042.2 1121.1"/>
<path d="M894.2 919.2 L905 921.9 L911.7 917.9"/>
<path d="M892.9 923.3 L902.3 923.3"/>
<path d="M1063.8 1006.7 L1060 1006 L1055.7 1004 L1051.7 1000 L1053 995.9 L1055.7 991.2 L1050.3 988.5 L1042.2 987.2 L1034.2 987.8 L1026.1 989.9 L1018 988.5 L1009.9 986.5 L1001.9 984.5 L995.1 982.5 L991.1 978.4 L987.7 975.1 L980.3 976.4 L973.6 973.7 L966.9 970.4 L960.1 967 L953.4 963.6 L950.1 958.2 L947.4 952.9 L947.4 948.1 L944 946.1 L940 943.4 L939.3 938.7 L935.9 936.7 L932.6 932.7 L926.5 933.3 L918.4 935.4 L907.7 938.1 L899.6 940.7 L894.2 943.4 L890.2 947.5 L886.1 951.5 L880.7 954.2 L875.4 956.2 L867.3 957.6 L860.6 958.9 L856.5 960.9 L854.5 966.3 L857.9 967.7 L863.3 966.3 L870 964.3 L876.7 963 L882.1 960.3 L886.1 957.6 L888.8 960.3 L894.2 962.3 L902.3 962.3 L907.7 964.3 L913 967 L918.4 971 L923.8 974.4 L929.2 977.1 L934.6 981.1 L940 985.2 L945.3 987.8 L949.4 991.9 L953.4 995.2 L957.5 1000 L961.5 1002.7 L968.2 1003.3 L973.6 1006 L976.3 1010.7 L977.6 1016.1 L974.9 1020.1 L971.6 1024.9 L974.9 1028.2 L979 1029.6 L985.7 1028.2 L993.8 1028.9 L1001.9 1030.9 L1009.9 1031.6 L1018 1032.9 L1026.1 1031.6 L1031.5 1029.8 L1036.9 1031.6 L1041.6 1034.9 L1042.2 1040.3 L1036.9 1041 L1040.9 1043.7 L1046.3 1043 L1050.3 1047.1 L1053 1052.4 L1055.7 1057.8 L1060 1061.9 L1063.8 1064.6"/>
<path d="M798.7 1024.9 L800 1026.2 L804 1030.9 L808.1 1036.3 L810.8 1041 L813.5 1046.4 L817.5 1047.7 L820.2 1044.4 L820.9 1039 L824.2 1034.9 L828.9 1032.3 L832.3 1033.6 L833 1039 L837.7 1043 L844.4 1045.7 L850.5 1048.4 L849.8 1051.8 L846.4 1053.8 L851.1 1055.8 L857.9 1055.1 L864.6 1055.8 L870 1059.2 L875.4 1058.5 L883.4 1059.2 L890.2 1061.2 L894.2 1063.2 L898.2 1059.8 L902.3 1061.9 L906.3 1065.9 L911.7 1065.9 L915.7 1067.9 L914.4 1072 L911.7 1075.3 L906.3 1078.7 L899.6 1080.7 L892.9 1081.4 L886.1 1080.7 L879.4 1079.4 L874 1078.7 L868.6 1080.7 L863.3 1083.4 L859.2 1086.1 L864.6 1088.8 L871.3 1091.5 L876.7 1094.2 L879.4 1097.5 L875.4 1100.2 L870 1102.2 L863.3 1103.6 L856.5 1102.2 L851.1 1099.5 L847.1 1095.5 L841.7 1091.5 L835 1087.4 L826.9 1083.4 L820.2 1079.4 L813.5 1075.3 L806.7 1071.3 L802.7 1069.9 L798.7 1070.6"/>
<path d="M867.3 1060.5 L886.1 1061.9"/>
<path d="M870 1062.5 L880.7 1060.5"/>
<path d="M880.7 1121.1 L882.1 1115.7 L880.7 1111.7 L882.8 1107.6 L887.5 1104.9 L894.2 1103.6 L899.6 1101.6 L906.3 1098.9 L913 1096.2 L921.1 1094.2 L929.2 1093.5 L937.3 1092.8 L942.7 1090.1 L946.7 1086.1 L952.1 1083.4 L958.8 1080.7 L965.5 1079.4 L970.9 1080.7 L972.9 1084.1 L969.6 1087.4 L964.2 1088.8 L960.1 1091.5 L968.2 1096.9 L974.9 1098.2 L981.7 1100.9 L987.1 1106.3 L991.1 1111.7 L995.1 1117 L997.8 1121.1"/>
<path d="M941.3 1100.9 L944.7 1095.5 L949.4 1091.5 L954.8 1088.8 L960.1 1089.5 L958.8 1094.2 L954.8 1098.2 L960.1 1099.5 L963.5 1103.6 L958.8 1107.6 L952.1 1109 L946.7 1106.9 L942.7 1104.3Z"/>
<path d="M946.7 1096.9 L956.1 1094.2"/>
<path d="M949.4 1102.2 L957.5 1103.6"/>
<path d="M1036.9 1040.3 L1042.2 1044.4 L1049 1048.4 L1053 1055.1 L1057 1061.9"/>
<path d="M940 916.5 L944.7 913.2 L948 909.1 L952.7 907.8 L956.8 909.8 L957.5 913.2 L961.5 914.5 L960.8 919.2 L957.5 922.6 L952.1 920.6 L946.7 919.2 L941.3 919.2Z"/>
<path d="M970.2 907.8 L973.6 907.1 L977.6 910.5 L984.4 915.2 L991.1 919.2 L997.8 920.6 L1004.6 918.5 L1009.9 914.5 L1015.3 909.8 L1020.7 903.1 L1026.1 895.7 L1030.1 897.7 L1031.5 904.4 L1028.8 911.1 L1022 913.8 L1015.3 916.5 L1008.6 919.9 L1001.9 923.3 L996.5 927.3 L991.1 930 L985.7 927.3 L980.3 924.6 L976.3 919.2 L972.9 913.8Z"/>
<path d="M1015.3 913.8 L1027.4 900.4"/>
<path d="M1022 912.5 L1030.1 905.8"/>
<path d="M1038.2 891.6 L1040.9 886.2 L1045.6 884.9 L1048.3 888.9 L1046.3 894.3 L1041.6 896.3Z"/>
<path d="M997.9 1120.4 L1000.1 1119 L1005.5 1117 L1010.9 1119 L1014.9 1123.1 L1017.6 1129.8 L1021.7 1131.8 L1024.4 1136.5 L1023 1141.9 L1027.1 1143.3 L1033.8 1141.9 L1039.2 1139.2 L1043.2 1133.8 L1041.9 1128.4 L1044.6 1123.1 L1042.5 1120.4"/>
<path d="M1052.6 1126.4 L1056 1128.4 L1055.3 1133.8 L1052.6 1139.2 L1049.9 1143.9 L1047.2 1143.3 L1047.9 1137.9 L1049.9 1131.8Z"/>
<path d="M1053.3 1129.1 L1049.3 1141.2"/>
<path d="M1080.9 1137.9 L1087.6 1136.5 L1093 1139.2 L1094.3 1144.6 L1090.3 1150 L1084.9 1155.4 L1079.5 1160.7 L1074.2 1162.8 L1072.1 1159.4 L1072.8 1152.7 L1074.8 1145.9 L1077.5 1141.2Z"/>
<path d="M944.3 1125.8 L955.7 1124.1 L967.2 1125.1 L964.5 1131.8 L959.8 1138.5 L953.7 1139.9 L946.3 1137.9 L949.7 1134.5 L954.4 1133.8 L947.7 1128.4Z"/>
<path d="M927.5 1147.3 L934.2 1143.9 L943.6 1144.6 L945 1150 L939.6 1156.7 L936.9 1159.4 L932.9 1152.7Z"/>
<path d="M929.5 1138.5 L936.9 1133.8"/>
<path d="M880.8 1121 L880.4 1108.9 L881.7 1112.3 L891.1 1113 L899.2 1113.6 L905.9 1116.3 L909.3 1120.4 L908.6 1125.8 L903.3 1127.1 L899.2 1128.4 L900.6 1132.5 L905.9 1133.8 L904.6 1139.2 L905.9 1145.9 L911.3 1150 L916.7 1152.7 L922.1 1156.7 L927.5 1160.1 L932.9 1160.7 L936.9 1158.7 L940.3 1160.7 L940.9 1164.1 L947.7 1166.1 L954.4 1168.8 L959.8 1171.5 L965.2 1174.2 L961.1 1176.2 L954.4 1177.6 L946.3 1178.9 L938.2 1180.3 L930.2 1181.6 L923.4 1180.3 L918.1 1183.6 L920.7 1187.7 L926.1 1190.4 L932.9 1189.7 L936.9 1191.7 L931.5 1193 L926.1 1192.4 L919.4 1189 L912.7 1189.7 L908 1192.4 L903.3 1192.4 L896.5 1189 L891.1 1187 L893.2 1182.3 L897.9 1180.3 L901.9 1178.2 L899.2 1174.2 L893.8 1172.9 L889.8 1170.2 L884.4 1168.8 L881.7 1164.8 L876.3 1162.1 L869.6 1160.7 L862.9 1162.1 L860.2 1164.8 L854.8 1160.7 L852.1 1155.4 L848.1 1152 L842.7 1152.7 L840 1154.7 L839.3 1160.7 L841.3 1167.5 L845.4 1174.2 L846.7 1179.6 L850.8 1185 L854.8 1191.7 L858.8 1198.4 L862.9 1203.8 L866.9 1209.2 L866.2 1215.9 L866.9 1221.3 L872.3 1224 L876.3 1226.7 L879 1232.1 L881.7 1237.5 L883.1 1244.2 L881.7 1248.2 L884.4 1253.6 L887.1 1259 L889.1 1264.4 L892.5 1267.7 L896.5 1271.1 L897.9 1275.1 L893.8 1278.5 L887.1 1280.5 L885.8 1284.6 L889.8 1287.9 L887.1 1292.6 L888.4 1298 L892.5 1303.4 L896.5 1306.8 L901.9 1308.8 L904.6 1313.5 L903.3 1318.2 L907.3 1320.9 L912.7 1323.6 L911.3 1326.9 L905.9 1326.3 L900.6 1327.6 L895.2 1324.9 L892.5 1319.5 L891.1 1314.8 L887.1 1312.1 L881.7 1312.8 L877.7 1316.9 L875 1311.5 L872.3 1306.1 L868.3 1302 L862.9 1298 L861.5 1292.6 L857.5 1288.6 L853.5 1287.2 L854.8 1283.2 L852.1 1277.8 L849.4 1272.4 L844 1270.4 L838.7 1270"/>
<path d="M942.3 1162.1 L954.4 1160.7 L962.5 1164.1"/>
<path d="M950.4 1157.4 L955.7 1159.4 L958.4 1166.1"/>
<path d="M895.2 1198.4 L900.6 1198.2 L905.9 1201.1 L910 1206.5 L908.6 1209.9 L903.3 1207.2 L897.9 1203.1Z"/>
<path d="M899.2 1200.4 L907.3 1207.2"/>
<path d="M936.2 1197.1 L939.6 1193.7 L947.7 1189.7 L955.7 1186.3 L963.8 1184.3 L969.9 1185 L969.2 1187.7 L961.1 1190.4 L954.4 1193 L947.7 1195.1 L940.9 1198.4 L936.9 1199.1Z"/>
<path d="M938.2 1197.1 L967.8 1186"/>
<path d="M866.2 1341.1 L873.6 1333.3 L879.3 1341.1"/>
<path d="M1053.5 887.6 L1056.1 882.2 L1059.5 877.5"/>
<path d="M1052.8 886.2 L1058.8 878.8"/>
<path d="M1099.9 948.1 L1101.9 944.1 L1105.9 942.8 L1111.3 945.5 L1116.7 948.1 L1120.7 950.8 L1120.1 955.5 L1119.4 959.6 L1124.8 962.3 L1130.2 964.3 L1134.2 967.7 L1136.9 971.7 L1136.2 975.1 L1131.5 974.4 L1127.5 975.7 L1126.1 979.1 L1122.1 978.4 L1118.7 975.7 L1114.7 974.4 L1112.7 971 L1115.4 967.7 L1117.4 964.3 L1112.7 963 L1107.3 961.6 L1103.3 958.9 L1099.2 960.3 L1097.2 958.2 L1101.2 954.2 L1102.6 951.5Z"/>
<path d="M1262 999.3 L1267.4 997.9 L1273.5 998.6 L1277.5 1002 L1276.2 1008 L1274.2 1011.4 L1268.8 1010.7 L1266.1 1007.4 L1267.4 1003.3 L1264.1 1002Z"/>
<path d="M1063.8 1006.7 L1064.2 1009.4 L1068.3 1012.7 L1062.9 1014.8 L1060.2 1018.8 L1060.2 1025.5 L1062.9 1029.6 L1061.5 1033.6 L1064.2 1037.6 L1065.6 1041.7 L1068.9 1046.4 L1071.6 1049.8 L1071 1055.1 L1070.3 1059.2 L1073.6 1061.9 L1079 1063.2 L1083.1 1065.2 L1085.8 1067.2 L1091.1 1065.9 L1096.5 1067.9 L1103.3 1068.3 L1110 1067.9 L1115.4 1068.6 L1120.7 1065.9 L1122.1 1069.9 L1120.7 1075.3 L1121.4 1080.7 L1120.1 1086.1 L1118.1 1090.1 L1114.7 1094.2 L1110 1097.5 L1105.9 1098.9 L1103.3 1096.9 L1101.9 1091.5 L1099.2 1088.8 L1095.2 1088.1 L1091.8 1090.1 L1091.8 1094.8 L1089.1 1097.5 L1085.1 1094.8 L1081 1091.5 L1079.7 1086.1 L1077.7 1082 L1073.6 1080 L1068.3 1078.7 L1064.2 1079.4 L1062.9 1074 L1060.2 1065.9 L1055.7 1057.8"/>
<path d="M1066.9 1087.4 L1070.3 1083.4 L1075.7 1084.1 L1076.3 1088.8 L1075 1094.2 L1069.6 1095.5 L1066.2 1092.8Z"/>
<path d="M1068.9 1090.8 L1074.3 1089.5"/>
<path d="M1307.8 906.7 L1313.3 899.1 L1323 894.8 L1336.1 893.7 L1349.1 891.5 L1357.8 888.3 L1360 882.8 L1370.9 881.7 L1383.9 881.3 L1389.3 885 L1394.8 888.3 L1401.3 892.6 L1394.8 894.8 L1390.4 899.1 L1399.1 903.5 L1405.7 908.9 L1412.2 914.3 L1415.4 920.9 L1419.8 927.4 L1426.3 933.9 L1426.3 938.3 L1420.9 939.3 L1415.4 938.3 L1412.2 942.6 L1403.5 944.3 L1394.8 945.2 L1386.1 943 L1377.4 940 L1368.7 937.2 L1360 938.3 L1353.5 933.9 L1349.1 928.5 L1344.8 925.2 L1336.1 924.1 L1327.4 923 L1320.9 918.7 L1313.3 914.3Z"/>
<path d="M1347 925.2 L1351.3 918.7 L1357.8 912.2 L1366.5 908.9 L1375.2 908.9 L1378.5 913.3 L1373 917.6 L1364.3 919.8 L1357.8 924.1 L1352.4 926.3Z"/>
<path d="M1401.3 923 L1406.7 922 L1412.2 927.4 L1415.4 935 L1412.2 937.8 L1407.8 931.7 L1403.5 927.4Z"/>
<path d="M1307.8 1007.8 L1311.1 1002.4 L1323 1000.2 L1333.9 998.7 L1342.6 1001.3 L1349.1 1005.7 L1355.7 1008.9 L1356.7 1016.5 L1354.6 1025.2 L1355.7 1033.9 L1357.8 1040.4 L1353.5 1047 L1349.1 1051.3 L1348 1057.8 L1340.4 1061.1 L1336.1 1067.6 L1329.6 1064.3 L1320.9 1060 L1314.3 1055.7 L1313.3 1051.3 L1319.8 1047 L1326.3 1043.7 L1330.7 1036.1 L1329.6 1028.5 L1325.2 1022 L1316.5 1018.7 L1311.1 1014.3Z"/>
<path d="M1357.8 1007.8 L1376.3 1014.8"/>
<path d="M1418.7 1130.7 L1425.2 1124.1 L1436.1 1120.9 L1447 1118.7 L1460 1118.7 L1470.9 1122 L1478.5 1124.1 L1483.9 1123 L1492.6 1124.1 L1493.7 1131.7 L1488.3 1133.9 L1479.6 1137.2 L1472 1138.3 L1464.3 1141.5 L1462.2 1144.8 L1453.5 1147 L1450.2 1141.5 L1445.9 1136.1 L1438.3 1133.9 L1429.6 1135 L1422 1138.3 L1419.8 1133.9Z"/>
<path d="M1449.1 1210 L1467.6 1230.7"/>
<path d="M1468.7 1233.9 L1475.2 1230.7 L1483.9 1233.9 L1490.4 1239.3 L1491.5 1245.9 L1486.1 1250.2 L1479.6 1249.1 L1476.3 1243.7 L1472 1244.8 L1467.6 1240.4Z"/>
<path d="M1134.6 1096.3 L1140 1092 L1150.9 1090.4 L1158.5 1096.3 L1161.7 1101.7 L1170.4 1103.9 L1177 1106.1 L1175.9 1112.6 L1179.1 1119.1 L1182.4 1125.7 L1179.1 1133.3 L1173.7 1136.5 L1168.3 1131.1 L1160.7 1123.5 L1153 1117 L1144.3 1110.4 L1137.8 1105Z"/>
<path d="M1177 1137.6 L1183.5 1138.7 L1192.2 1139.8 L1200.9 1143 L1211.7 1144.1 L1220.4 1147.4 L1221.5 1153.9 L1217.2 1160.4 L1209.6 1162.2 L1200.9 1157.2 L1192.2 1151.7 L1183.5 1145.2Z"/>
<path d="M1130.2 1149.6 L1137.8 1145.2 L1145.4 1146.3 L1146.1 1152.8 L1138.9 1151.7Z"/>
<path d="M1086.7 1177.8 L1093.3 1170.2 L1098.7 1168 L1097.6 1175.7 L1105.2 1180 L1102 1186.5 L1096.5 1190.9 L1091.1 1195.2 L1085.7 1196.3 L1088.9 1188.7 L1088.9 1182.2Z"/>
<path d="M1165 1163.7 L1171.5 1164.8 L1175.9 1172.4 L1181.3 1175.7 L1179.1 1181.1 L1170.4 1183.3 L1163.9 1186.5 L1160.7 1181.1 L1163.9 1173.5Z"/>
<path d="M1229.1 1165.9 L1240 1164.8 L1248.7 1168 L1257.4 1172.4 L1255.2 1175.7 L1246.5 1175.7 L1237.8 1180 L1231.3 1178.9 L1229.1 1172.4Z"/>
<path d="M1094.3 1215.9 L1102 1209.3 L1110.7 1209.3 L1113.9 1215.9 L1109.6 1223.5 L1100.9 1224.6 L1094.3 1222.4Z"/>
<path d="M1128 1234.3 L1135.7 1235.4 L1143.3 1242 L1148.7 1248.5 L1144.3 1256.1 L1138.9 1257.2 L1134.6 1248.5 L1131.3 1240.9Z"/>
<path d="M1200.9 1224.6 L1211.7 1219.1 L1222.6 1218 L1227 1223.5 L1224.8 1232.2 L1219.3 1239.8 L1211.7 1244.1 L1203 1243 L1199.8 1235.4Z"/>
<path d="M1175.9 1247.4 L1183.5 1242 L1192.2 1235.4 L1197.6 1232.2 L1196.5 1240.9 L1192.2 1248.5 L1183.5 1248.5Z"/>
<path d="M1233.5 1227.8 L1244.3 1221.3 L1255.2 1212.6 L1263.9 1209.3 L1270.4 1215.9 L1274.3 1225.7 L1271.5 1236.5 L1266.1 1245.2 L1257.4 1250.7 L1248.7 1253.9 L1244.3 1248.5 L1240 1239.8 L1236.7 1232.2Z"/>
<path d="M1243.3 1266.5 L1250.9 1260.4 L1259.6 1257.8 L1265 1260.4 L1260.7 1265.9 L1252 1268.7Z"/>
<path d="M1293.3 1270.2 L1300.9 1268 L1309.6 1264.8 L1318.3 1258.3 L1327 1252.8 L1334.6 1249.6 L1341.1 1252.8 L1347.6 1257.2 L1338.9 1257.2 L1330.2 1260.4 L1322.6 1265.9 L1313.9 1272.4 L1304.1 1276.7 L1296.5 1275.7Z"/>
<path d="M1219.3 1281.1 L1223.7 1272.4 L1230.2 1272.4 L1235.7 1277.8 L1243.3 1283.3 L1242.2 1290.9 L1237.8 1295.2 L1231.3 1289.8 L1225.9 1284.3Z"/>
<path d="M1192.2 1297.4 L1198.7 1288.7 L1207.4 1283.3 L1211.7 1284.3 L1206.3 1290.9 L1198.7 1296.3Z"/>
<path d="M1158.5 1290.9 L1166.1 1292 L1174.8 1297.4 L1177 1301.7 L1170.4 1302.8 L1162.8 1297.4Z"/>
<path d="M1080.2 1292 L1083.5 1280 L1092.2 1276.7 L1100.9 1282.2 L1111.7 1280 L1115 1286.5 L1109.6 1292 L1098.7 1292 L1090 1294.1Z"/>
<path d="M1110.7 1269.1 L1116.1 1263.7 L1122.6 1265.9 L1123.7 1273.5 L1117.2 1275.7 L1112.8 1273.5Z"/>
<path d="M1125.2 1274.6 L1129.6 1272.4 L1133.9 1275.7 L1132.4 1279.6 L1127 1278.9Z"/>
<path d="M1231.3 1325.7 L1235.7 1319.1 L1244.3 1318 L1253 1322.4 L1257.4 1330 L1256.3 1337.6 L1249.8 1342 L1242.2 1339.8 L1235.7 1337.6 L1231.3 1332.2Z"/>
<path d="M1291.1 1335.4 L1298.7 1330 L1306.3 1333.3 L1312.8 1338.7 L1304.1 1339.8 L1295.4 1339.8Z"/>
<path d="M1370.4 1303.9 L1379.1 1299.6 L1387.8 1300.7 L1392.2 1294.1 L1398.7 1295.2 L1405.2 1301.7 L1406.3 1310.4 L1398.7 1308.3 L1391.1 1307.2 L1388.9 1313.7 L1382.4 1315.9 L1375.9 1312.6Z"/>
<path d="M1329.1 1163.7 L1335.7 1153.9 L1344.3 1145.2 L1355.2 1144.1 L1366.1 1142 L1379.1 1137.6 L1388.9 1136.5 L1385.7 1144.1 L1374.8 1151.7 L1361.7 1156.1 L1348.7 1159.3 L1337.8 1163.7Z"/>
<path d="M1471.7 1277.2 L1475 1275 L1481.5 1273.9 L1487 1267.4 L1495.7 1262 L1506.5 1257.6 L1517.4 1255.4 L1526.1 1253.3 L1530.4 1257.6 L1537 1257.6 L1537.4 1262 L1530.4 1264.1 L1521.7 1266.3 L1510.9 1269.6 L1502.2 1275 L1493.5 1277.2 L1484.8 1277.2 L1481.5 1282.6 L1479.3 1289.1 L1475 1287 L1471.7 1282.6Z"/>
<path d="M1503.3 1302.2 L1506.5 1297.8 L1513 1297.4 L1517.4 1302.2 L1515.2 1307.6 L1508.7 1308.7 L1503.9 1306.5Z"/>
<path d="M1527.2 1320.7 L1534.8 1318.5 L1539.1 1321.7 L1541.3 1328.3 L1547.8 1330.4 L1552.2 1329.3 L1553.3 1335.9 L1547.8 1333.7 L1541.3 1333.7 L1534.8 1328.3 L1529.3 1326.1Z"/>
<path d="M1602.2 1297.8 L1612 1290.2 L1616.3 1297.8 L1616.3 1313 L1609.8 1308.7 L1604.3 1306.5 L1598.9 1304.3Z"/>
<path d="M1606.5 1295.7 L1614.1 1308.7"/>
<path d="M1562 1355.4 L1569.6 1353.9 L1578.3 1354.8 L1579.3 1358.7 L1571.7 1360.4 L1562 1360.4Z"/>
<path d="M1563 1357.6 L1577.2 1357"/>
<path d="M1587 1368.5 L1592.4 1366.3 L1598.9 1362 L1603.3 1357.6 L1600 1353.3 L1605.4 1350 L1614.1 1343.5 L1623.9 1339.1 L1634.8 1334.8 L1645.7 1330.4 L1656.5 1327.2 L1664.1 1326.5 L1667.4 1322.2 L1670.7 1325 L1669.6 1332.6 L1667.4 1342.4 L1662 1352.2 L1656.5 1362 L1650 1366.3 L1645.7 1373.9 L1647.8 1382.6 L1641.3 1379.3 L1632.6 1382.6 L1623.9 1387 L1617.4 1395.7 L1612 1402.2 L1604.3 1406.5 L1597.8 1409.8 L1594.6 1403.3 L1592.4 1400 L1595.7 1391.3 L1597.8 1382.6 L1596.7 1376.1 L1591.3 1373.9Z"/>
<path d="M1517.4 1405.4 L1520.7 1414.1 L1518.5 1421.7 L1516.3 1430.4 L1513 1439.1 L1508.7 1447.8 L1510.9 1454.3 L1516.3 1460.9 L1520.7 1467.4 L1515.2 1471.7 L1509.8 1475 L1505.4 1482.2 L1501.1 1478.3 L1495.7 1475 L1500 1468.5 L1498.9 1459.8 L1494.6 1454.3 L1491.3 1451.7 L1497.8 1446.7 L1502.2 1439.1 L1506.5 1432.6 L1508.3 1421.7 L1513 1419.6 L1512 1412 L1515.2 1406.5Z"/>
<path d="M1458.7 1488 L1465.2 1482.6 L1473.9 1478.3 L1485.9 1476.1 L1484.8 1480.4 L1476.1 1484.8 L1467.4 1490.2Z"/>
<path d="M968 1444.2 L968.6 1449.8 L969.2 1457.2 L972.3 1462.2 L977.3 1465.9 L983.5 1466.5 L989.1 1465.9 L990.9 1462.2 L991.6 1457.2 L989.7 1452.2 L988.4 1446 L989.7 1441.1 L992.8 1436.7 L997.1 1439.2 L999 1442.9 L999 1449.8 L999.6 1457.2 L1000.9 1460.3 L1007.1 1461.6 L1014.5 1462.8 L1022 1462.2 L1027 1464 L1033.2 1464 L1038.1 1462.8 L1039.4 1459.1 L1043.1 1457.8 L1045.6 1457.8 L1042.5 1454.7 L1044.3 1452.2 L1049.3 1450.7 L1054.3 1451 L1059.3 1453.5 L1062.4 1457.8 L1063 1462.2 L1059.9 1465.9 L1055.5 1467.1 L1050.6 1466.5 L1045.6 1465.9 L1041.9 1467.1 L1046.8 1469.6 L1054.3 1471.5 L1059.3 1474 L1064.2 1472.1 L1069.2 1470.2 L1071.7 1473.4 L1072.3 1479.6 L1071.7 1485.8 L1074.8 1488.3 L1081.6 1488.9 L1089.1 1487.6 L1096.5 1486.4 L1105.2 1485.5 L1113.9 1484.5 L1121.4 1482.7 L1126.3 1480.2 L1131.3 1478.1 L1138.8 1477.7 L1146.2 1478.3 L1153.7 1479.6 L1161.1 1478.9 L1166.1 1478.3 L1172.3 1480.2 L1180 1479.6"/>
<path d="M968 1444.2 L968.6 1451 L968 1459.7 L966.7 1465.9 L967.3 1472.1 L964.8 1478.3 L963 1483.3 L962.4 1489.5 L963 1493.2 L959.9 1497 L961.1 1501.9 L966.7 1501.9 L969.8 1505 L976 1506.3 L983.5 1506.9 L990.9 1505.7 L998.4 1506.3 L1004.6 1504.4 L1010.8 1505 L1017 1506.9 L1022 1508.1 L1028.2 1507.5 L1033.2 1510 L1036.9 1512.5 L1043.1 1511.9 L1049.3 1512.5 L1055.5 1511.9 L1061.7 1511.2 L1068 1513.7 L1074.2 1515.6 L1080.4 1515 L1086.6 1513.1 L1090.3 1513.1 L1094 1516.2 L1100.2 1518.7 L1106.5 1519.3 L1111.4 1521.2 L1115.2 1524.9 L1118.9 1527.4 L1126.3 1527.4 L1133.8 1526.8 L1140 1527.4 L1143.7 1529.3 L1146.2 1534.2 L1146.8 1540.4 L1145.6 1546.6 L1146.2 1551.6 L1142.5 1553.5 L1151.2 1552.9 L1157.4 1551 L1163.6 1551 L1171.1 1551.6 L1180 1551"/>
<path d="M1038.1 1563.4 L1043.1 1560.9 L1049.3 1560.9 L1052.4 1564 L1050.6 1567.1 L1052.4 1571.5 L1046.8 1571.5 L1041.9 1567.8Z"/>
<path d="M1030.1 1550.4 L1035 1554.1"/>
<path d="M1041.9 1467.1 L1051.8 1469"/>
<path d="M1180 1479.6 L1184.8 1478.3 L1189.2 1481.4 L1189.2 1487 L1191.1 1490.7 L1197.3 1490.1 L1203.5 1489.5 L1209.7 1489.5 L1213.4 1491.4 L1219.6 1491.4 L1227.1 1490.7 L1234.5 1490.1 L1240.7 1490.1 L1244.5 1494.5 L1248.2 1497.6 L1253.2 1497.6 L1259.4 1495.7 L1265.6 1493.2 L1271.8 1491.4 L1278 1489.5 L1283 1488.9 L1289.2 1490.1 L1295.4 1490.5 L1299.8 1490.7 L1298.5 1494.5 L1294.8 1495.7 L1292.9 1499.4 L1294.8 1504.4 L1291.7 1508.1 L1289.8 1513.1 L1289.8 1518.1 L1291.7 1521.8 L1296.6 1523.7 L1301.6 1525.5 L1305.3 1526.1 L1307.8 1521.8 L1310.9 1517.5 L1313.4 1514.3 L1319 1513.7 L1325.2 1512.5 L1331.4 1509.4 L1336.4 1506.9 L1342.6 1506.3 L1348.8 1508.1 L1351.9 1511.2 L1356.3 1511.9 L1361.2 1509.4 L1365 1505 L1368.7 1500.7 L1372.4 1499.4 L1376.1 1495.7 L1379.3 1494.5 L1376.8 1498.2 L1373.7 1501.9 L1374.9 1506.9 L1376.1 1511.9 L1378.6 1513.1 L1376.8 1516.8 L1376.1 1523 L1373.7 1528 L1369.9 1534.2 L1365 1538.6 L1358.8 1540.4 L1353.8 1542.3 L1348.8 1542.3 L1345.7 1538.6 L1341.4 1538 L1336.4 1538.6 L1331.4 1536.1 L1327.7 1535.5 L1321.5 1536.7 L1315.3 1538.6 L1309.1 1540.4 L1304.1 1541.7 L1297.9 1541.1 L1291.7 1539.8 L1285.5 1539.2 L1279.3 1540.4 L1271.8 1540.4 L1265.6 1542.3 L1258.1 1544.2 L1251.9 1543.5 L1245.7 1542.9 L1239.5 1541.7 L1233.3 1543.5 L1225.8 1544.8 L1220.9 1547.3 L1214.7 1549.8 L1208.4 1549.1 L1202.2 1549.1 L1197.3 1551.6 L1191.1 1551 L1184.8 1552.9 L1180 1551"/>
<path d="M1209.7 1474.6 L1214.7 1470.9 L1221.5 1472.7 L1220.2 1477.7 L1214.7 1477.7Z"/>
<path d="M1284.2 1560.3 L1289.2 1558.4 L1296 1559.7 L1295.4 1562.2 L1289.2 1563Z"/>
<path d="M1285.5 1560.9 L1294.8 1560.6"/>
<path d="M668 1231.7 L668.7 1232 L675.2 1239.6 L680.7 1247.2 L683.9 1259.1 L686.1 1267.8 L687.2 1274.3 L692.6 1272.2 L701.3 1270 L705.7 1272.2 L710 1279.8 L714.3 1286.3 L716.5 1279.8 L722 1275.4 L726.3 1272.2 L722 1265.7 L720.9 1254.8 L720.9 1243.9 L725.2 1239.6 L733.9 1236.3 L744.8 1235.7 L753.5 1237.4 L754.6 1246.1 L751.3 1253.7 L760 1255.9 L766.5 1261.3 L772 1267.8 L777.4 1276.5 L782.8 1285.2 L787.2 1291.7 L788.3 1300.4 L789.3 1309.1 L783.9 1312.4 L787.2 1317.8 L793.7 1321.1 L800.2 1323.3 L804.6 1331.3 L806.7 1323.3 L807.8 1315.7 L804.6 1307 L803.5 1298.3 L810 1289.6 L814.3 1283 L818.7 1274.3 L827.4 1271.1 L838.7 1270"/>
<path d="M874.1 1333 L879.6 1339.6 L886.1 1346.1 L894.8 1350.4 L900.2 1355.9 L892.6 1360.2 L890.4 1370 L881.7 1371.1 L873 1366.7 L868.7 1359.1 L866.5 1350.4 L864.3 1341.7 L868.7 1336.3Z"/>
<path d="M922 1405.9 L927.4 1407 L932.2 1413.5 L931.7 1418.9 L927.4 1416.7 L923.5 1411.3Z"/>
</g>
<g fill="#000">
<circle cx="340.0" cy="811.5" r="4.3"/>
<circle cx="343.3" cy="810.4" r="2.7"/>
<circle cx="367.8" cy="806.1" r="3.5"/>
<circle cx="358.0" cy="823.5" r="3.0"/>
<circle cx="359.1" cy="825.7" r="2.2"/>
<circle cx="991.3" cy="780.0" r="2.3"/>
<circle cx="1018.9" cy="740.0" r="2.7"/>
<circle cx="1022.0" cy="740.7" r="2.3"/>
<circle cx="1033.7" cy="723.7" r="3.1"/>
<circle cx="1343.5" cy="799.1" r="2.2"/>
<circle cx="1791.7" cy="652.8" r="1.6"/>
<circle cx="1796.5" cy="657.8" r="1.9"/>
<circle cx="550.9" cy="923.1" r="2.5"/>
<circle cx="539.4" cy="984.3" r="3.7"/>
<circle cx="543.1" cy="990.6" r="4.0"/>
<circle cx="549.3" cy="989.9" r="3.4"/>
<circle cx="545.6" cy="996.8" r="2.8"/>
<circle cx="549.9" cy="1001.1" r="3.4"/>
<circle cx="537.5" cy="1006.7" r="3.7"/>
<circle cx="552.4" cy="1016.6" r="3.9"/>
<circle cx="529.4" cy="1015.4" r="2.5"/>
<circle cx="580.4" cy="1034.7" r="2.3"/>
<circle cx="585.3" cy="1035.3" r="1.9"/>
<circle cx="588.4" cy="1037.5" r="1.9"/>
<circle cx="626.3" cy="1044.6" r="2.0"/>
<circle cx="630.1" cy="1017.3" r="3.4"/>
<circle cx="582.4" cy="1203.0" r="3.5"/>
<circle cx="793.1" cy="1024.4" r="3.0"/>
<circle cx="742.7" cy="1035.2" r="2.4"/>
<circle cx="645.8" cy="1040.6" r="2.7"/>
<circle cx="629.9" cy="1019.3" r="4.4"/>
<circle cx="627.6" cy="1143.5" r="3.0"/>
<circle cx="663.5" cy="1233.0" r="3.0"/>
<circle cx="970.9" cy="1023.5" r="3.7"/>
<circle cx="932.6" cy="1013.4" r="3.0"/>
<circle cx="896.9" cy="988.5" r="2.7"/>
<circle cx="878.1" cy="936.7" r="3.4"/>
<circle cx="888.8" cy="935.4" r="3.0"/>
<circle cx="880.5" cy="1072.6" r="2.5"/>
<circle cx="1051.7" cy="1053.8" r="3.4"/>
<circle cx="1053.7" cy="886.9" r="3.0"/>
<circle cx="1057.7" cy="878.8" r="3.0"/>
<circle cx="1030.1" cy="922.6" r="3.4"/>
<circle cx="1049.0" cy="926.6" r="4.4"/>
<circle cx="996.1" cy="1125.1" r="3.0"/>
<circle cx="1025.0" cy="1142.6" r="2.4"/>
<circle cx="920.7" cy="1117.0" r="3.4"/>
<circle cx="931.5" cy="1119.7" r="2.2"/>
<circle cx="921.4" cy="1135.2" r="3.0"/>
<circle cx="932.9" cy="1136.5" r="2.7"/>
<circle cx="954.4" cy="1159.4" r="2.7"/>
<circle cx="862.2" cy="1165.5" r="2.2"/>
<circle cx="870.3" cy="1166.1" r="2.9"/>
<circle cx="879.0" cy="1175.3" r="3.2"/>
<circle cx="854.1" cy="1287.9" r="3.4"/>
<circle cx="873.0" cy="1318.9" r="4.0"/>
<circle cx="878.4" cy="1320.9" r="3.0"/>
<circle cx="924.1" cy="1200.4" r="3.0"/>
<circle cx="1021.0" cy="1168.8" r="3.4"/>
<circle cx="1018.3" cy="1166.8" r="2.4"/>
<circle cx="1023.0" cy="1170.8" r="2.4"/>
<circle cx="951.0" cy="1252.9" r="2.7"/>
<circle cx="950.1" cy="1250.9" r="2.0"/>
<circle cx="952.0" cy="1254.9" r="2.0"/>
<circle cx="1014.9" cy="1264.6" r="2.9"/>
<circle cx="1068.4" cy="1272.7" r="4.4"/>
<circle cx="1059.5" cy="865.1" r="1.0"/>
<circle cx="1081.0" cy="886.9" r="3.7"/>
<circle cx="1080.4" cy="888.9" r="3.0"/>
<circle cx="1081.7" cy="884.9" r="3.0"/>
<circle cx="1085.8" cy="964.3" r="4.0"/>
<circle cx="1087.8" cy="963.9" r="3.0"/>
<circle cx="1097.5" cy="965.6" r="1.0"/>
<circle cx="1105.9" cy="967.7" r="3.4"/>
<circle cx="1106.6" cy="965.0" r="2.4"/>
<circle cx="1114.0" cy="971.7" r="3.0"/>
<circle cx="1120.7" cy="975.1" r="3.0"/>
<circle cx="1124.8" cy="977.1" r="3.0"/>
<circle cx="1260.0" cy="1009.4" r="4.0"/>
<circle cx="1048.1" cy="1048.4" r="3.7"/>
<circle cx="1053.5" cy="1051.1" r="3.4"/>
<circle cx="1050.8" cy="1056.5" r="3.4"/>
<circle cx="1042.7" cy="1061.9" r="3.7"/>
<circle cx="1057.5" cy="1067.2" r="3.0"/>
<circle cx="1061.5" cy="1072.6" r="2.7"/>
<circle cx="1456.7" cy="952.4" r="2.4"/>
<circle cx="1362.2" cy="1008.9" r="3.3"/>
<circle cx="1368.7" cy="1011.1" r="3.8"/>
<circle cx="1375.2" cy="1014.3" r="3.8"/>
<circle cx="1390.4" cy="1026.3" r="1.6"/>
<circle cx="1448.7" cy="1023.0" r="2.4"/>
<circle cx="1479.6" cy="1122.0" r="3.8"/>
<circle cx="1491.5" cy="1127.4" r="3.3"/>
<circle cx="1450.2" cy="1211.1" r="4.9"/>
<circle cx="1456.7" cy="1216.5" r="4.9"/>
<circle cx="1462.2" cy="1223.0" r="4.9"/>
<circle cx="1466.5" cy="1229.6" r="4.1"/>
<circle cx="1500.2" cy="1249.1" r="3.5"/>
<circle cx="1506.7" cy="1250.2" r="3.5"/>
<circle cx="1497.0" cy="1231.7" r="2.7"/>
<circle cx="1497.6" cy="1198.0" r="4.1"/>
<circle cx="1479.6" cy="1170.9" r="6.0"/>
<circle cx="1476.3" cy="1169.8" r="3.3"/>
<circle cx="1483.5" cy="1170.4" r="3.3"/>
<circle cx="1573.0" cy="1210.0" r="2.2"/>
<circle cx="1525.2" cy="1222.6" r="2.7"/>
<circle cx="1563.3" cy="1217.6" r="2.4"/>
<circle cx="1217.2" cy="1178.9" r="4.9"/>
<circle cx="1222.6" cy="1182.2" r="3.8"/>
<circle cx="1213.9" cy="1183.3" r="3.5"/>
<circle cx="1267.8" cy="1178.9" r="2.2"/>
<circle cx="1122.6" cy="1202.8" r="2.7"/>
<circle cx="1273.7" cy="1248.5" r="3.8"/>
<circle cx="1279.1" cy="1256.1" r="4.6"/>
<circle cx="1284.6" cy="1263.7" r="3.3"/>
<circle cx="1304.6" cy="1223.5" r="5.4"/>
<circle cx="1287.8" cy="1228.9" r="3.5"/>
<circle cx="1095.4" cy="1284.3" r="4.9"/>
<circle cx="1068.3" cy="1272.4" r="4.9"/>
<circle cx="1241.1" cy="1328.9" r="5.4"/>
<circle cx="1307.8" cy="1350.2" r="2.4"/>
<circle cx="1354.1" cy="1308.3" r="3.0"/>
<circle cx="1367.6" cy="1307.6" r="2.4"/>
<circle cx="1407.4" cy="1149.6" r="6.5"/>
<circle cx="1398.7" cy="1152.8" r="3.8"/>
<circle cx="1413.9" cy="1147.4" r="4.3"/>
<circle cx="1409.6" cy="1159.3" r="3.8"/>
<circle cx="1417.2" cy="1188.7" r="6.0"/>
<circle cx="1416.1" cy="1197.4" r="4.3"/>
<circle cx="1442.2" cy="1184.3" r="4.9"/>
<circle cx="1446.5" cy="1193.0" r="4.9"/>
<circle cx="1449.8" cy="1198.5" r="3.3"/>
<circle cx="1377.0" cy="1243.5" r="2.7"/>
<circle cx="1379.6" cy="1242.6" r="2.2"/>
<circle cx="1399.8" cy="1240.9" r="3.0"/>
<circle cx="1404.8" cy="1240.4" r="3.0"/>
<circle cx="1213.9" cy="1354.3" r="3.0"/>
<circle cx="1285.7" cy="1297.0" r="3.0"/>
<circle cx="1393.3" cy="1380.0" r="2.4"/>
<circle cx="1368.3" cy="1412.2" r="2.4"/>
<circle cx="1402.6" cy="1417.4" r="2.4"/>
<circle cx="1456.3" cy="1408.7" r="3.0"/>
<circle cx="1434.6" cy="1339.1" r="4.3"/>
<circle cx="1678.3" cy="1281.5" r="2.2"/>
<circle cx="1775.0" cy="1279.3" r="2.2"/>
<circle cx="1789.1" cy="1309.3" r="2.2"/>
<circle cx="1502.2" cy="1291.3" r="3.5"/>
<circle cx="1505.4" cy="1289.1" r="2.7"/>
<circle cx="1489.1" cy="1302.2" r="2.2"/>
<circle cx="1494.6" cy="1305.4" r="2.7"/>
<circle cx="1479.3" cy="1315.7" r="3.0"/>
<circle cx="1496.7" cy="1231.5" r="2.7"/>
<circle cx="1553.3" cy="1336.3" r="2.7"/>
<circle cx="1613.0" cy="1312.0" r="2.7"/>
<circle cx="1590.2" cy="1350.0" r="3.5"/>
<circle cx="1584.8" cy="1353.3" r="2.7"/>
<circle cx="1599.6" cy="1353.3" r="2.4"/>
<circle cx="1518.0" cy="1406.5" r="3.0"/>
<circle cx="1460.9" cy="1476.1" r="2.2"/>
<circle cx="1465.2" cy="1475.7" r="1.9"/>
<circle cx="1032.5" cy="1552.2" r="2.5"/>
<circle cx="1121.6" cy="1540.7" r="2.5"/>
<circle cx="1119.5" cy="1541.1" r="1.9"/>
<circle cx="1123.9" cy="1540.2" r="1.9"/>
<circle cx="969.8" cy="1445.4" r="3.1"/>
<circle cx="969.6" cy="1449.8" r="2.2"/>
<circle cx="1022.2" cy="1460.3" r="2.2"/>
<circle cx="1044.3" cy="1467.4" r="2.2"/>
<circle cx="1215.3" cy="1474.6" r="3.4"/>
<circle cx="1294.8" cy="1499.4" r="3.7"/>
<circle cx="1293.5" cy="1503.2" r="3.1"/>
<circle cx="1292.9" cy="1511.2" r="2.5"/>
<circle cx="1313.0" cy="1513.1" r="2.8"/>
<circle cx="1359.4" cy="1490.7" r="3.4"/>
<circle cx="1356.9" cy="1492.6" r="2.2"/>
<circle cx="1378.6" cy="1495.1" r="2.8"/>
<circle cx="1384.8" cy="1500.7" r="2.8"/>
<circle cx="1379.3" cy="1513.1" r="3.4"/>
<circle cx="1353.8" cy="1550.4" r="3.7"/>
<circle cx="1352.5" cy="1553.5" r="2.5"/>
<circle cx="1368.1" cy="1412.5" r="2.2"/>
<circle cx="664.3" cy="1234.1" r="3.3"/>
<circle cx="682.8" cy="1249.3" r="2.2"/>
<circle cx="686.1" cy="1277.6" r="3.8"/>
<circle cx="694.8" cy="1279.8" r="3.0"/>
<circle cx="698.0" cy="1284.1" r="3.0"/>
<circle cx="714.3" cy="1286.3" r="2.7"/>
<circle cx="810.0" cy="1291.7" r="3.3"/>
<circle cx="804.6" cy="1330.9" r="2.2"/>
</g>
<g fill="none" stroke="#000" stroke-width="1.4">
<circle cx="368.9" cy="824.6" r="1.3"/>
<circle cx="1309.1" cy="718.5" r="1.5"/>
<circle cx="1309.3" cy="718.4" r="1.5"/>
<circle cx="555.5" cy="934.0" r="1.2"/>
<circle cx="568.6" cy="937.8" r="1.2"/>
<circle cx="568.6" cy="941.5" r="1.1"/>
<circle cx="561.7" cy="944.6" r="1.2"/>
<circle cx="578.5" cy="939.0" r="1.1"/>
<circle cx="558.6" cy="1005.7" r="1.2"/>
<circle cx="494.0" cy="1070.1" r="1.2"/>
<circle cx="510.2" cy="1032.5" r="1.1"/>
<circle cx="584.1" cy="1026.6" r="1.5"/>
<circle cx="626.3" cy="1037.8" r="1.1"/>
<circle cx="633.2" cy="1041.5" r="1.2"/>
<circle cx="620.1" cy="1043.7" r="1.1"/>
<circle cx="561.3" cy="1137.8" r="1.3"/>
<circle cx="573.7" cy="1134.3" r="1.3"/>
<circle cx="632.7" cy="1041.6" r="1.2"/>
<circle cx="626.2" cy="1037.9" r="0.9"/>
<circle cx="627.6" cy="1045.3" r="1.1"/>
<circle cx="889.9" cy="912.9" r="1.2"/>
<circle cx="932.6" cy="932.7" r="1.2"/>
<circle cx="854.2" cy="966.3" r="1.1"/>
<circle cx="825.6" cy="1044.1" r="1.2"/>
<circle cx="836.6" cy="1046.1" r="1.1"/>
<circle cx="864.3" cy="1063.6" r="1.2"/>
<circle cx="894.9" cy="1110.6" r="1.2"/>
<circle cx="903.0" cy="1111.4" r="1.2"/>
<circle cx="1047.3" cy="1062.8" r="1.2"/>
<circle cx="1056.4" cy="1077.3" r="1.2"/>
<circle cx="1041.8" cy="934.7" r="1.1"/>
<circle cx="1044.3" cy="932.7" r="0.9"/>
<circle cx="977.4" cy="922.6" r="1.1"/>
<circle cx="1017.4" cy="1134.2" r="1.2"/>
<circle cx="936.2" cy="1118.4" r="1.2"/>
<circle cx="939.6" cy="1119.0" r="1.2"/>
<circle cx="950.4" cy="1118.0" r="1.2"/>
<circle cx="953.4" cy="1118.8" r="1.2"/>
<circle cx="939.9" cy="1131.8" r="1.2"/>
<circle cx="908.6" cy="1127.1" r="1.2"/>
<circle cx="894.5" cy="1110.7" r="1.2"/>
<circle cx="903.3" cy="1111.6" r="1.2"/>
<circle cx="949.3" cy="1202.7" r="1.5"/>
<circle cx="1054.6" cy="1308.4" r="1.5"/>
<circle cx="1079.9" cy="1296.9" r="1.2"/>
<circle cx="1059.5" cy="865.1" r="1.3"/>
<circle cx="1102.8" cy="937.4" r="1.3"/>
<circle cx="1105.9" cy="939.7" r="1.2"/>
<circle cx="1097.5" cy="965.6" r="1.3"/>
<circle cx="1070.1" cy="990.5" r="1.5"/>
<circle cx="1226.5" cy="1065.9" r="1.5"/>
<circle cx="1047.8" cy="1062.5" r="1.2"/>
<circle cx="1054.1" cy="1061.9" r="1.1"/>
<circle cx="1056.1" cy="1077.3" r="1.3"/>
<circle cx="1064.2" cy="1079.1" r="1.1"/>
<circle cx="1111.3" cy="1100.2" r="1.2"/>
<circle cx="1143.0" cy="1113.0" r="1.1"/>
<circle cx="1145.2" cy="1113.8" r="1.1"/>
<circle cx="1355.7" cy="888.9" r="1.3"/>
<circle cx="1480.2" cy="1177.4" r="1.3"/>
<circle cx="1454.1" cy="1193.7" r="1.3"/>
<circle cx="1453.5" cy="1198.5" r="1.3"/>
<circle cx="1442.2" cy="1203.0" r="1.3"/>
<circle cx="1472.0" cy="1257.8" r="1.3"/>
<circle cx="1470.4" cy="1222.6" r="1.3"/>
<circle cx="1143.9" cy="1113.0" r="1.3"/>
<circle cx="1152.0" cy="1117.4" r="1.1"/>
<circle cx="1181.7" cy="1181.5" r="1.1"/>
<circle cx="1228.0" cy="1181.7" r="1.1"/>
<circle cx="1111.7" cy="1194.8" r="1.3"/>
<circle cx="1117.2" cy="1219.6" r="1.1"/>
<circle cx="1218.9" cy="1242.6" r="1.1"/>
<circle cx="1278.7" cy="1242.6" r="1.3"/>
<circle cx="1181.7" cy="1299.1" r="1.1"/>
<circle cx="1079.8" cy="1296.7" r="1.1"/>
<circle cx="1054.6" cy="1308.3" r="1.3"/>
<circle cx="1303.7" cy="1344.8" r="1.3"/>
<circle cx="1316.1" cy="1350.7" r="1.3"/>
<circle cx="1395.9" cy="1160.9" r="1.3"/>
<circle cx="1416.1" cy="1162.6" r="1.3"/>
<circle cx="1407.4" cy="1179.3" r="1.3"/>
<circle cx="1424.8" cy="1194.6" r="1.3"/>
<circle cx="1441.1" cy="1202.8" r="1.1"/>
<circle cx="1383.0" cy="1242.6" r="1.1"/>
<circle cx="1390.7" cy="1241.5" r="1.1"/>
<circle cx="1358.5" cy="1255.0" r="1.3"/>
<circle cx="1395.0" cy="1384.8" r="1.1"/>
<circle cx="1423.0" cy="1328.3" r="1.1"/>
<circle cx="1427.0" cy="1327.8" r="1.1"/>
<circle cx="1446.1" cy="1346.3" r="1.7"/>
<circle cx="1456.3" cy="1486.5" r="1.3"/>
<circle cx="1677.8" cy="1270.0" r="1.5"/>
<circle cx="1511.1" cy="1288.7" r="1.3"/>
<circle cx="1527.2" cy="1318.5" r="1.1"/>
<circle cx="1596.1" cy="1307.0" r="1.3"/>
<circle cx="1590.7" cy="1357.8" r="1.1"/>
<circle cx="1589.1" cy="1374.6" r="1.1"/>
<circle cx="1468.9" cy="1473.5" r="1.1"/>
<circle cx="1457.0" cy="1487.4" r="1.1"/>
<circle cx="953.9" cy="1453.7" r="1.5"/>
<circle cx="1359.4" cy="1485.2" r="1.4"/>
<circle cx="685.0" cy="1250.4" r="1.7"/>
<circle cx="881.7" cy="1377.6" r="1.3"/>
<circle cx="919.1" cy="1395.0" r="1.3"/>
<circle cx="899.6" cy="1357.4" r="1.1"/>
</g>
</g>
<rect x="250.0" y="488.7" width="1550.0" height="1083.1" fill="none" stroke="#000" stroke-width="2.2"/>
<g id="cbar"><rect x="534.50" y="1726.0" width="17.22" height="53.4" fill="#730421"/><rect x="551.12" y="1726.0" width="17.22" height="53.4" fill="#7f0823"/><rect x="567.73" y="1726.0" width="17.22" height="53.4" fill="#8a0b25"/><rect x="584.35" y="1726.0" width="17.22" height="53.4" fill="#991027"/><rect x="600.97" y="1726.0" width="17.22" height="53.4" fill="#a51429"/><rect x="617.58" y="1726.0" width="17.22" height="53.4" fill="#b1182b"/><rect x="634.20" y="1726.0" width="17.22" height="53.4" fill="#b72230"/><rect x="650.82" y="1726.0" width="17.22" height="53.4" fill="#be3036"/><rect x="667.44" y="1726.0" width="17.22" height="53.4" fill="#c43b3c"/><rect x="684.05" y="1726.0" width="17.22" height="53.4" fill="#c94741"/><rect x="700.67" y="1726.0" width="17.22" height="53.4" fill="#cf5246"/><rect x="717.29" y="1726.0" width="17.22" height="53.4" fill="#d6604d"/><rect x="733.90" y="1726.0" width="17.22" height="53.4" fill="#db6b55"/><rect x="750.52" y="1726.0" width="17.22" height="53.4" fill="#df765e"/><rect x="767.14" y="1726.0" width="17.22" height="53.4" fill="#e58368"/><rect x="783.75" y="1726.0" width="17.22" height="53.4" fill="#ea8e70"/><rect x="800.37" y="1726.0" width="17.22" height="53.4" fill="#ef9979"/><rect x="816.99" y="1726.0" width="17.22" height="53.4" fill="#f3a481"/><rect x="833.61" y="1726.0" width="17.22" height="53.4" fill="#f6af8e"/><rect x="850.22" y="1726.0" width="17.22" height="53.4" fill="#f7b799"/><rect x="866.84" y="1726.0" width="17.22" height="53.4" fill="#f8bfa4"/><rect x="883.46" y="1726.0" width="17.22" height="53.4" fill="#fac8af"/><rect x="900.07" y="1726.0" width="17.22" height="53.4" fill="#fcd3bc"/><rect x="916.69" y="1726.0" width="17.22" height="53.4" fill="#fddbc7"/><rect x="933.31" y="1726.0" width="17.22" height="53.4" fill="#fcdfcf"/><rect x="949.92" y="1726.0" width="17.22" height="53.4" fill="#fbe4d6"/><rect x="966.54" y="1726.0" width="17.22" height="53.4" fill="#fae9df"/><rect x="983.16" y="1726.0" width="17.22" height="53.4" fill="#f9eee7"/><rect x="999.77" y="1726.0" width="17.22" height="53.4" fill="#f8f2ef"/><rect x="1016.39" y="1726.0" width="17.22" height="53.4" fill="#f6f7f7"/><rect x="1033.01" y="1726.0" width="17.22" height="53.4" fill="#f0f4f6"/><rect x="1049.63" y="1726.0" width="17.22" height="53.4" fill="#eaf1f5"/><rect x="1066.24" y="1726.0" width="17.22" height="53.4" fill="#e4eef4"/><rect x="1082.86" y="1726.0" width="17.22" height="53.4" fill="#ddebf2"/><rect x="1099.48" y="1726.0" width="17.22" height="53.4" fill="#d7e8f1"/><rect x="1116.09" y="1726.0" width="17.22" height="53.4" fill="#d1e5f0"/><rect x="1132.71" y="1726.0" width="17.22" height="53.4" fill="#c7e0ed"/><rect x="1149.33" y="1726.0" width="17.22" height="53.4" fill="#bbdaea"/><rect x="1165.94" y="1726.0" width="17.22" height="53.4" fill="#b1d5e7"/><rect x="1182.56" y="1726.0" width="17.22" height="53.4" fill="#a7d0e4"/><rect x="1199.18" y="1726.0" width="17.22" height="53.4" fill="#9dcbe1"/><rect x="1215.79" y="1726.0" width="17.22" height="53.4" fill="#90c4dd"/><rect x="1232.41" y="1726.0" width="17.22" height="53.4" fill="#84bcd9"/><rect x="1249.03" y="1726.0" width="17.22" height="53.4" fill="#78b4d5"/><rect x="1265.65" y="1726.0" width="17.22" height="53.4" fill="#68abd0"/><rect x="1282.26" y="1726.0" width="17.22" height="53.4" fill="#5ca3cb"/><rect x="1298.88" y="1726.0" width="17.22" height="53.4" fill="#4f9bc7"/><rect x="1315.50" y="1726.0" width="17.22" height="53.4" fill="#4393c3"/><rect x="1332.11" y="1726.0" width="17.22" height="53.4" fill="#3c8abe"/><rect x="1348.73" y="1726.0" width="17.22" height="53.4" fill="#3783bb"/><rect x="1365.35" y="1726.0" width="17.22" height="53.4" fill="#327cb7"/><rect x="1381.96" y="1726.0" width="17.22" height="53.4" fill="#2c75b4"/><rect x="1398.58" y="1726.0" width="17.22" height="53.4" fill="#266caf"/><rect x="1415.20" y="1726.0" width="17.22" height="53.4" fill="#2065ab"/><rect x="1431.82" y="1726.0" width="17.22" height="53.4" fill="#1c5c9f"/><rect x="1448.43" y="1726.0" width="17.22" height="53.4" fill="#185493"/><rect x="1465.05" y="1726.0" width="17.22" height="53.4" fill="#124984"/><rect x="1481.67" y="1726.0" width="17.22" height="53.4" fill="#0e4179"/><rect x="1498.28" y="1726.0" width="17.22" height="53.4" fill="#09386d"/><path d="M535.3 1726.0 L485.5 1752.7 L535.3 1779.4Z" fill="#67001f"/><path d="M1514.1 1726.0 L1563.9 1752.7 L1514.1 1779.4Z" fill="#053061"/><path d="M485.5 1752.7 L534.5 1726.0 L1514.9 1726.0 L1563.9 1752.7 L1514.9 1779.4 L534.5 1779.4Z" fill="none" stroke="#000" stroke-width="2.2" stroke-linejoin="miter"/><path d="M534.50 1779.4 v9.7" stroke="#000" stroke-width="2.2"/><path d="M551.12 1779.4 v5.6" stroke="#000" stroke-width="1.7"/><path d="M567.73 1779.4 v5.6" stroke="#000" stroke-width="1.7"/><path d="M584.35 1779.4 v5.6" stroke="#000" stroke-width="1.7"/><path d="M600.97 1779.4 v5.6" stroke="#000" stroke-width="1.7"/><path d="M617.58 1779.4 v5.6" stroke="#000" stroke-width="1.7"/><path d="M634.20 1779.4 v9.7" stroke="#000" stroke-width="2.2"/><path d="M650.82 1779.4 v5.6" stroke="#000" stroke-width="1.7"/><path d="M667.44 1779.4 v5.6" stroke="#000" stroke-width="1.7"/><path d="M684.05 1779.4 v5.6" stroke="#000" stroke-width="1.7"/><path d="M700.67 1779.4 v5.6" stroke="#000" stroke-width="1.7"/><path d="M717.29 1779.4 v5.6" stroke="#000" stroke-width="1.7"/><path d="M733.90 1779.4 v9.7" stroke="#000" stroke-width="2.2"/><path d="M750.52 1779.4 v5.6" stroke="#000" stroke-width="1.7"/><path d="M767.14 1779.4 v5.6" stroke="#000" stroke-width="1.7"/><path d="M783.75 1779.4 v5.6" stroke="#000" stroke-width="1.7"/><path d="M800.37 1779.4 v5.6" stroke="#000" stroke-width="1.7"/><path d="M816.99 1779.4 v5.6" stroke="#000" stroke-width="1.7"/><path d="M833.61 1779.4 v9.7" stroke="#000" stroke-width="2.2"/><path d="M850.22 1779.4 v5.6" stroke="#000" stroke-width="1.7"/><path d="M866.84 1779.4 v5.6" stroke="#000" stroke-width="1.7"/><path d="M883.46 1779.4 v5.6" stroke="#000" stroke-width="1.7"/><path d="M900.07 1779.4 v5.6" stroke="#000" stroke-width="1.7"/><path d="M916.69 1779.4 v5.6" stroke="#000" stroke-width="1.7"/><path d="M933.31 1779.4 v9.7" stroke="#000" stroke-width="2.2"/><path d="M949.92 1779.4 v5.6" stroke="#000" stroke-width="1.7"/><path d="M966.54 1779.4 v5.6" stroke="#000" stroke-width="1.7"/><path d="M983.16 1779.4 v5.6" stroke="#000" stroke-width="1.7"/><path d="M999.77 1779.4 v5.6" stroke="#000" stroke-width="1.7"/><path d="M1016.39 1779.4 v5.6" stroke="#000" stroke-width="1.7"/><path d="M1033.01 1779.4 v9.7" stroke="#000" stroke-width="2.2"/><path d="M1049.63 1779.4 v5.6" stroke="#000" stroke-width="1.7"/><path d="M1066.24 1779.4 v5.6" stroke="#000" stroke-width="1.7"/><path d="M1082.86 1779.4 v5.6" stroke="#000" stroke-width="1.7"/><path d="M1099.48 1779.4 v5.6" stroke="#000" stroke-width="1.7"/><path d="M1116.09 1779.4 v5.6" stroke="#000" stroke-width="1.7"/><path d="M1132.71 1779.4 v9.7" stroke="#000" stroke-width="2.2"/><path d="M1149.33 1779.4 v5.6" stroke="#000" stroke-width="1.7"/><path d="M1165.94 1779.4 v5.6" stroke="#000" stroke-width="1.7"/><path d="M1182.56 1779.4 v5.6" stroke="#000" stroke-width="1.7"/><path d="M1199.18 1779.4 v5.6" stroke="#000" stroke-width="1.7"/><path d="M1215.79 1779.4 v5.6" stroke="#000" stroke-width="1.7"/><path d="M1232.41 1779.4 v9.7" stroke="#000" stroke-width="2.2"/><path d="M1249.03 1779.4 v5.6" stroke="#000" stroke-width="1.7"/><path d="M1265.65 1779.4 v5.6" stroke="#000" stroke-width="1.7"/><path d="M1282.26 1779.4 v5.6" stroke="#000" stroke-width="1.7"/><path d="M1298.88 1779.4 v5.6" stroke="#000" stroke-width="1.7"/><path d="M1315.50 1779.4 v5.6" stroke="#000" stroke-width="1.7"/><path d="M1332.11 1779.4 v9.7" stroke="#000" stroke-width="2.2"/><path d="M1348.73 1779.4 v5.6" stroke="#000" stroke-width="1.7"/><path d="M1365.35 1779.4 v5.6" stroke="#000" stroke-width="1.7"/><path d="M1381.96 1779.4 v5.6" stroke="#000" stroke-width="1.7"/><path d="M1398.58 1779.4 v5.6" stroke="#000" stroke-width="1.7"/><path d="M1415.20 1779.4 v5.6" stroke="#000" stroke-width="1.7"/><path d="M1431.82 1779.4 v9.7" stroke="#000" stroke-width="2.2"/><path d="M1448.43 1779.4 v5.6" stroke="#000" stroke-width="1.7"/><path d="M1465.05 1779.4 v5.6" stroke="#000" stroke-width="1.7"/><path d="M1481.67 1779.4 v5.6" stroke="#000" stroke-width="1.7"/><path d="M1498.28 1779.4 v5.6" stroke="#000" stroke-width="1.7"/><path d="M1514.90 1779.4 v9.7" stroke="#000" stroke-width="2.2"/></g>
<g font-family="'DejaVu Sans', 'Liberation Sans', sans-serif" fill="#000">
<text x="1025" y="471.6" text-anchor="middle" font-size="55.3" font-weight="bold">2014</text>
<text x="534.5" y="1828.8" text-anchor="middle" font-size="38.9">−30</text>
<text x="634.2" y="1828.8" text-anchor="middle" font-size="38.9">−24</text>
<text x="733.9" y="1828.8" text-anchor="middle" font-size="38.9">−18</text>
<text x="833.6" y="1828.8" text-anchor="middle" font-size="38.9">−12</text>
<text x="933.3" y="1828.8" text-anchor="middle" font-size="38.9">−6</text>
<text x="1033.0" y="1828.8" text-anchor="middle" font-size="38.9">0</text>
<text x="1132.7" y="1828.8" text-anchor="middle" font-size="38.9">6</text>
<text x="1232.4" y="1828.8" text-anchor="middle" font-size="38.9">12</text>
<text x="1332.1" y="1828.8" text-anchor="middle" font-size="38.9">18</text>
<text x="1431.8" y="1828.8" text-anchor="middle" font-size="38.9">24</text>
<text x="1514.9" y="1828.8" text-anchor="middle" font-size="38.9">30</text>
<text x="1025" y="1883" text-anchor="middle" font-size="44.4">Days</text>
</g>
</svg>
</body></html>
